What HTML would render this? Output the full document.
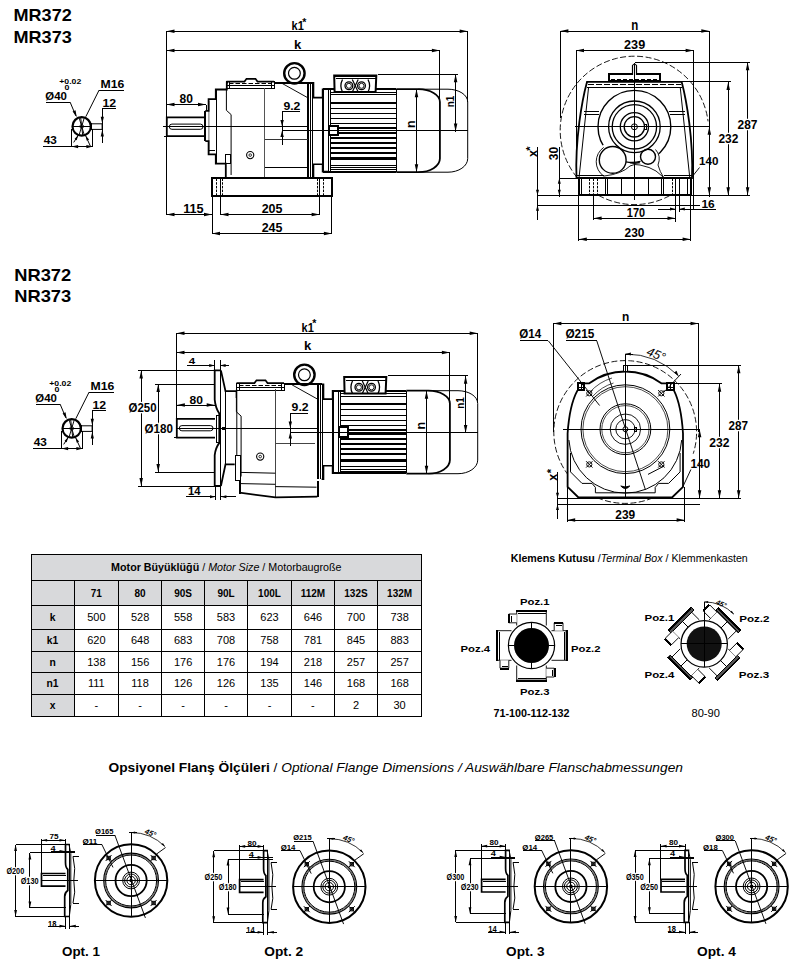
<!DOCTYPE html><html><head><meta charset="utf-8"><style>html,body{margin:0;padding:0;background:#fff;width:802px;height:974px;overflow:hidden}svg{display:block;font-family:"Liberation Sans",sans-serif}</style></head><body>
<svg width="802" height="974" viewBox="0 0 802 974" stroke="#000" fill="#000" stroke-linecap="butt">
<text x="13.5" y="20.7" font-size="17.15" font-weight="bold" font-style="normal" text-anchor="start" textLength="58.3" lengthAdjust="spacingAndGlyphs" stroke="none" >MR372</text>
<text x="13.5" y="42.7" font-size="17.28" font-weight="bold" font-style="normal" text-anchor="start" textLength="58.3" lengthAdjust="spacingAndGlyphs" stroke="none" >MR373</text>
<circle cx="81.7" cy="126.4" r="9.2" stroke-width="2.2" fill="none" />
<circle cx="81.7" cy="126.4" r="1.8" stroke-width="0.9" fill="none" />
<line x1="73.2" y1="126.5" x2="90.2" y2="126.5" stroke-width="1" shape-rendering="crispEdges" />
<line x1="79.2" y1="118.1" x2="84.2" y2="134.7" stroke-width="0.95" />
<line x1="84.2" y1="118.1" x2="79.2" y2="134.7" stroke-width="0.95" />
<line x1="80.7" y1="117.6" x2="82.7" y2="135.2" stroke-width="0.95" />
<path d="M91.2 123.8H102.1V129.4H91.2" stroke-width="1.0" fill="none" />
<line x1="91" y1="123.4" x2="91" y2="129.9" stroke-width="2" shape-rendering="crispEdges" />
<line x1="102.5" y1="108.5" x2="102.5" y2="143.2" stroke-width="1" shape-rendering="crispEdges" />
<line x1="102.3" y1="108.5" x2="115.7" y2="108.5" stroke-width="1" shape-rendering="crispEdges" />
<path d="M102.3 123.8L100.7 116.8L103.9 116.8Z" fill="#000" stroke="none"/>
<path d="M102.3 129.4L103.9 136.4L100.7 136.4Z" fill="#000" stroke="none"/>
<text x="102.5" y="106.6" font-size="11.03" font-weight="bold" font-style="normal" text-anchor="start" textLength="13.7" lengthAdjust="spacingAndGlyphs" stroke="none" >12</text>
<line x1="42.7" y1="146.5" x2="93.3" y2="146.5" stroke-width="1" shape-rendering="crispEdges" />
<line x1="71.5" y1="129.4" x2="71.5" y2="146.9" stroke-width="1" shape-rendering="crispEdges" />
<line x1="92.5" y1="129.4" x2="92.5" y2="146.9" stroke-width="1" shape-rendering="crispEdges" />
<path d="M71.6 146.6L78.1 145L78.1 148.2Z" fill="#000" stroke="none"/>
<path d="M92.9 146.6L86.4 148.2L86.4 145Z" fill="#000" stroke="none"/>
<line x1="78.2" y1="135.4" x2="73.7" y2="142.4" stroke-width="1.0" />
<line x1="85.7" y1="135.9" x2="90.5" y2="146.4" stroke-width="1.0" />
<path d="M78.1 135.2L76.74 140.18L74.48 138.89Z" fill="#000" stroke="none"/>
<path d="M85.7 135.7L89.1 139.59L86.77 140.75Z" fill="#000" stroke="none"/>
<text x="43.7" y="144.4" font-size="11.03" font-weight="bold" font-style="normal" text-anchor="start" textLength="13.1" lengthAdjust="spacingAndGlyphs" stroke="none" >43</text>
<text x="45.3" y="99.5" font-size="11.03" font-weight="bold" font-style="normal" text-anchor="start" textLength="21.6" lengthAdjust="spacingAndGlyphs" stroke="none" >&#216;40</text>
<line x1="45.7" y1="102.5" x2="70.1" y2="102.5" stroke-width="1" shape-rendering="crispEdges" />
<line x1="70.1" y1="102.1" x2="75.9" y2="115.9" stroke-width="1.0" />
<path d="M76.8 117.2L72.59 111.38L75.54 110.13Z" fill="#000" stroke="none"/>
<text x="59.3" y="83.8" font-size="7.57" font-weight="bold" font-style="normal" text-anchor="start" textLength="22" lengthAdjust="spacingAndGlyphs" stroke="none" >+0.02</text>
<text x="64.4" y="89.8" font-size="6.35" font-weight="bold" font-style="normal" text-anchor="start" textLength="4.9" lengthAdjust="spacingAndGlyphs" stroke="none" >0</text>
<text x="100.5" y="87.5" font-size="11.17" font-weight="bold" font-style="normal" text-anchor="start" textLength="23.8" lengthAdjust="spacingAndGlyphs" stroke="none" >M16</text>
<line x1="99.1" y1="90.5" x2="123.8" y2="90.5" stroke-width="1" shape-rendering="crispEdges" />
<line x1="99.1" y1="90.1" x2="85.8" y2="116.7" stroke-width="1.0" />
<circle cx="294.4" cy="73.3" r="10.2" stroke-width="2.4" fill="none" />
<circle cx="294.4" cy="73.3" r="5.9" stroke-width="1.2" fill="none" />
<path d="M226.5 81.6H244.5L246.5 78.8H255.5L257.5 81.6H274" stroke-width="1.7" fill="none" />
<line x1="229" y1="83.5" x2="271.5" y2="83.5" stroke-width="1" stroke-dasharray="4.5 2"/>
<line x1="227" y1="85.5" x2="274" y2="85.5" stroke-width="1" shape-rendering="crispEdges" />
<line x1="227" y1="88.5" x2="274.3" y2="88.5" stroke-width="1" shape-rendering="crispEdges" />
<rect x="226.5" y="81.5" width="3" height="7" stroke-width="1" fill="none" shape-rendering="crispEdges" />
<rect x="271.5" y="81.5" width="3" height="7" stroke-width="1" fill="none" shape-rendering="crispEdges" />
<line x1="274.6" y1="83" x2="311.6" y2="83" stroke-width="2" shape-rendering="crispEdges" />
<line x1="282.1" y1="83.4" x2="307.5" y2="97.6" stroke-width="0.95" />
<line x1="308" y1="82.7" x2="308" y2="177.7" stroke-width="2" shape-rendering="crispEdges" />
<line x1="310.5" y1="82.7" x2="310.5" y2="177.7" stroke-width="1" shape-rendering="crispEdges" />
<line x1="312.5" y1="82.7" x2="312.5" y2="177.7" stroke-width="1" shape-rendering="crispEdges" />
<line x1="264.5" y1="87.9" x2="264.5" y2="177.7" stroke-width="1" shape-rendering="crispEdges" stroke="#555"/>
<line x1="264.9" y1="139.5" x2="307.5" y2="139.5" stroke-width="1" shape-rendering="crispEdges" stroke="#333"/>
<line x1="264.9" y1="167.5" x2="307.5" y2="167.5" stroke-width="1" shape-rendering="crispEdges" />
<path d="M226.4 88V110.3L231.1 114.6V175" stroke-width="1.0" fill="none" />
<circle cx="250.2" cy="155.1" r="3.6" stroke-width="1.1" fill="none" />
<circle cx="250.2" cy="155.1" r="1.3" stroke-width="0.8" fill="none" />
<path d="M311.6 82.7H313.5V97.6H322.6V89.3H328" stroke-width="1.6" fill="none" />
<path d="M311.6 177.7H313.5V164.2H322.6V171.6H328" stroke-width="1.6" fill="none" />
<line x1="323" y1="89.3" x2="323" y2="171.6" stroke-width="2" shape-rendering="crispEdges" />
<line x1="322.6" y1="89" x2="396.3" y2="89" stroke-width="2" shape-rendering="crispEdges" />
<line x1="322.6" y1="172" x2="396.3" y2="172" stroke-width="2" shape-rendering="crispEdges" />
<line x1="396.5" y1="89.3" x2="396.5" y2="171.6" stroke-width="1" shape-rendering="crispEdges" />
<line x1="328.5" y1="88.7" x2="328.5" y2="171.6" stroke-width="1" shape-rendering="crispEdges" />
<line x1="330.5" y1="88.7" x2="330.5" y2="171.6" stroke-width="1" shape-rendering="crispEdges" />
<line x1="331.2" y1="92.5" x2="396.3" y2="92.5" stroke-width="1" shape-rendering="crispEdges" />
<line x1="331.2" y1="94.5" x2="396.3" y2="94.5" stroke-width="1" shape-rendering="crispEdges" />
<line x1="331.2" y1="103" x2="396.3" y2="103" stroke-width="2" shape-rendering="crispEdges" />
<line x1="331.2" y1="108.5" x2="396.3" y2="108.5" stroke-width="1" shape-rendering="crispEdges" />
<line x1="331.2" y1="113.5" x2="396.3" y2="113.5" stroke-width="1" shape-rendering="crispEdges" />
<line x1="331.2" y1="118.5" x2="396.3" y2="118.5" stroke-width="1" shape-rendering="crispEdges" />
<line x1="331.2" y1="123.5" x2="396.3" y2="123.5" stroke-width="1" shape-rendering="crispEdges" />
<line x1="331.2" y1="128" x2="396.3" y2="128" stroke-width="2" shape-rendering="crispEdges" />
<line x1="331.2" y1="133" x2="396.3" y2="133" stroke-width="2" shape-rendering="crispEdges" />
<line x1="331.2" y1="138" x2="396.3" y2="138" stroke-width="2" shape-rendering="crispEdges" />
<line x1="331.2" y1="143" x2="396.3" y2="143" stroke-width="2" shape-rendering="crispEdges" />
<line x1="331.2" y1="148" x2="396.3" y2="148" stroke-width="2" shape-rendering="crispEdges" />
<line x1="331.2" y1="153" x2="396.3" y2="153" stroke-width="2" shape-rendering="crispEdges" />
<rect x="331" y="157.2" width="65.3" height="3" stroke="none" shape-rendering="crispEdges"/>
<line x1="331.2" y1="165.5" x2="396.3" y2="165.5" stroke-width="1" shape-rendering="crispEdges" />
<line x1="331.2" y1="167.5" x2="396.3" y2="167.5" stroke-width="1" shape-rendering="crispEdges" />
<line x1="331.2" y1="169.5" x2="396.3" y2="169.5" stroke-width="1" shape-rendering="crispEdges" />
<rect x="329" y="126" width="9" height="9" stroke-width="2" fill="#fff" shape-rendering="crispEdges" />
<path d="M334.6 92L334.2 75.5H376.3L375.6 92Z" stroke-width="2.0" fill="#fff" />
<line x1="333.6" y1="76" x2="376.9" y2="76" stroke-width="2" shape-rendering="crispEdges" />
<line x1="335.7" y1="78.5" x2="375.5" y2="78.5" stroke-width="1" shape-rendering="crispEdges" />
<path d="M342.5 79.5Q339.3 85.8 342.5 92" stroke-width="1.3" fill="none" />
<path d="M368 79.5Q371.2 85.8 368 92" stroke-width="1.3" fill="none" />
<line x1="352.3" y1="79.5" x2="358.2" y2="92" stroke-width="1.2" />
<line x1="358.2" y1="79.5" x2="352.3" y2="92" stroke-width="1.2" />
<circle cx="348.9" cy="85.8" r="3.9" stroke-width="1.3" fill="#fff" />
<circle cx="348.9" cy="85.8" r="2.5" stroke-width="0.9" fill="none" />
<circle cx="361.5" cy="85.8" r="3.9" stroke-width="1.3" fill="#fff" />
<circle cx="361.5" cy="85.8" r="2.5" stroke-width="0.9" fill="none" />
<path d="M396.3 89.2H418.4A21.5 12.7 0 0 1 439.9 101.9V158.6A21.5 13.6 0 0 1 418.4 172.2H396.3" stroke-width="1.8" fill="none" />
<path d="M418.4 89.2H448A19.7 12.7 0 0 1 467.7 101.9V158.6A19.7 13.6 0 0 1 448 172.2H418.4" stroke-width="1.0" fill="none" />
<line x1="163" y1="126.5" x2="307.5" y2="126.5" stroke-width="1" shape-rendering="crispEdges" />
<line x1="282.1" y1="130.5" x2="467.7" y2="130.5" stroke-width="1" shape-rendering="crispEdges" />
<text x="283.4" y="109.5" font-size="11.17" font-weight="bold" font-style="normal" text-anchor="start" textLength="17" lengthAdjust="spacingAndGlyphs" stroke="none" >9.2</text>
<line x1="282.1" y1="111.5" x2="300.1" y2="111.5" stroke-width="1" shape-rendering="crispEdges" />
<line x1="282.5" y1="111.5" x2="282.5" y2="144.9" stroke-width="1" shape-rendering="crispEdges" />
<path d="M282.1 126.5L280.4 120L283.8 120Z" fill="#000" stroke="none"/>
<path d="M282.1 130.5L283.8 137L280.4 137Z" fill="#000" stroke="none"/>
<line x1="416.5" y1="89.2" x2="416.5" y2="172.2" stroke-width="1" shape-rendering="crispEdges" />
<path d="M416.5 89.2L418.25 97.2L414.75 97.2Z" fill="#000" stroke="none"/>
<path d="M416.5 172.2L414.75 164.2L418.25 164.2Z" fill="#000" stroke="none"/>
<g transform="translate(412 124.1) rotate(-90)">
<text x="0" y="3.4" font-size="12.5" font-weight="bold" font-style="normal" text-anchor="middle" stroke="none" >n</text>
</g>
<line x1="378.2" y1="74.5" x2="458" y2="74.5" stroke-width="1" shape-rendering="crispEdges" />
<line x1="455.5" y1="74.2" x2="455.5" y2="131.5" stroke-width="1" shape-rendering="crispEdges" />
<path d="M455.6 74.2L457.35 82.2L453.85 82.2Z" fill="#000" stroke="none"/>
<path d="M455.6 131.5L453.85 123.5L457.35 123.5Z" fill="#000" stroke="none"/>
<g transform="translate(450 101.4) rotate(-90)">
<text x="0" y="3.96" font-size="11" font-weight="bold" font-style="normal" text-anchor="middle" textLength="11.5" lengthAdjust="spacingAndGlyphs" stroke="none" >n1</text>
</g>
<path d="M205 117.3H166.8V136.2H205" stroke-width="1.8" fill="none" />
<line x1="163.5" y1="136.5" x2="166.8" y2="136.5" stroke-width="1" shape-rendering="crispEdges" />
<rect x="169.3" y="124.1" width="33.7" height="5.2" rx="2.6" stroke-width="1.0" fill="none"/>
<line x1="163" y1="126.5" x2="207" y2="126.5" stroke-width="1" shape-rendering="crispEdges" />
<path d="M205.3 110.8H208.6V99.2H215.8V89.5H226.8V82.5H228" stroke-width="1.8" fill="none" />
<path d="M205.3 141.1H208.6V154.3H215.8V163.7H225.8V177.8" stroke-width="1.8" fill="none" />
<line x1="205" y1="110.8" x2="205" y2="141.1" stroke-width="2" shape-rendering="crispEdges" />
<line x1="216.5" y1="89.5" x2="216.5" y2="163.4" stroke-width="1" shape-rendering="crispEdges" />
<path d="M208.9 101V152.5" stroke-width="0.6" fill="none" />
<rect x="225.5" y="154.5" width="5" height="9" stroke-width="1" fill="none" shape-rendering="crispEdges" />
<line x1="208.1" y1="150.5" x2="215.3" y2="150.5" stroke-width="1" shape-rendering="crispEdges" />
<rect x="212" y="178" width="120" height="18" stroke-width="2" fill="none" shape-rendering="crispEdges" />
<line x1="216.5" y1="178.5" x2="216.5" y2="195" stroke-width="1" stroke-dasharray="2.5 1.2"/>
<line x1="220.5" y1="178.5" x2="220.5" y2="195" stroke-width="1" shape-rendering="crispEdges" />
<line x1="222.5" y1="178.5" x2="222.5" y2="195" stroke-width="1" stroke-dasharray="2.5 1.2"/>
<line x1="317.5" y1="178.5" x2="317.5" y2="195" stroke-width="1" stroke-dasharray="2.5 1.2"/>
<line x1="319.5" y1="178.5" x2="319.5" y2="195" stroke-width="1" shape-rendering="crispEdges" />
<line x1="323.5" y1="178.5" x2="323.5" y2="195" stroke-width="1" stroke-dasharray="2.5 1.2"/>
<line x1="226" y1="178" x2="311.6" y2="178" stroke-width="2" shape-rendering="crispEdges" />
<line x1="166.5" y1="31.3" x2="166.5" y2="214.8" stroke-width="1" shape-rendering="crispEdges" />
<line x1="166.5" y1="31.5" x2="467.7" y2="31.5" stroke-width="1" shape-rendering="crispEdges" />
<path d="M166.5 31.3L174.5 29.55L174.5 33.05Z" fill="#000" stroke="none"/>
<path d="M467.7 31.3L459.7 33.05L459.7 29.55Z" fill="#000" stroke="none"/>
<line x1="467.5" y1="31.3" x2="467.5" y2="101.9" stroke-width="1" shape-rendering="crispEdges" />
<line x1="166.5" y1="50.5" x2="439.9" y2="50.5" stroke-width="1" shape-rendering="crispEdges" />
<path d="M166.5 50.5L174.5 48.75L174.5 52.25Z" fill="#000" stroke="none"/>
<path d="M439.9 50.5L431.9 52.25L431.9 48.75Z" fill="#000" stroke="none"/>
<line x1="439.5" y1="50.5" x2="439.5" y2="101.9" stroke-width="1" shape-rendering="crispEdges" />
<text x="291.6" y="29.9" font-size="12.15" font-weight="bold" font-style="normal" text-anchor="start" textLength="12.3" lengthAdjust="spacingAndGlyphs" stroke="none" >k1</text>
<text x="302.3" y="25.5" font-size="10.5" font-weight="bold" font-style="normal" text-anchor="start" stroke="none" >*</text>
<text x="294.1" y="48.6" font-size="12.15" font-weight="bold" font-style="normal" text-anchor="start" textLength="7.3" lengthAdjust="spacingAndGlyphs" stroke="none" >k</text>
<line x1="166.5" y1="104.5" x2="206" y2="104.5" stroke-width="1" shape-rendering="crispEdges" />
<path d="M166.5 104.5L174.5 102.75L174.5 106.25Z" fill="#000" stroke="none"/>
<path d="M206 104.5L198 106.25L198 102.75Z" fill="#000" stroke="none"/>
<line x1="206.5" y1="104.5" x2="206.5" y2="109.6" stroke-width="1" shape-rendering="crispEdges" />
<text x="179.5" y="102.7" font-size="12.85" font-weight="bold" font-style="normal" text-anchor="start" textLength="13.4" lengthAdjust="spacingAndGlyphs" stroke="none" >80</text>
<line x1="166.5" y1="214.5" x2="212" y2="214.5" stroke-width="1" shape-rendering="crispEdges" />
<path d="M166.5 214.4L174.5 212.65L174.5 216.15Z" fill="#000" stroke="none"/>
<path d="M212 214.4L204 216.15L204 212.65Z" fill="#000" stroke="none"/>
<line x1="212.5" y1="195.5" x2="212.5" y2="234" stroke-width="1" shape-rendering="crispEdges" />
<line x1="220.5" y1="214.5" x2="319.6" y2="214.5" stroke-width="1" shape-rendering="crispEdges" />
<path d="M220.5 214.4L228.5 212.65L228.5 216.15Z" fill="#000" stroke="none"/>
<path d="M319.6 214.4L311.6 216.15L311.6 212.65Z" fill="#000" stroke="none"/>
<line x1="220.5" y1="195.5" x2="220.5" y2="215" stroke-width="1" shape-rendering="crispEdges" />
<line x1="319.5" y1="195.5" x2="319.5" y2="215" stroke-width="1" shape-rendering="crispEdges" />
<line x1="212" y1="233.5" x2="331.9" y2="233.5" stroke-width="1" shape-rendering="crispEdges" />
<path d="M212 233.4L220 231.65L220 235.15Z" fill="#000" stroke="none"/>
<path d="M331.9 233.4L323.9 235.15L323.9 231.65Z" fill="#000" stroke="none"/>
<line x1="331.5" y1="195.5" x2="331.5" y2="234" stroke-width="1" shape-rendering="crispEdges" />
<text x="183.2" y="213.3" font-size="12.01" font-weight="bold" font-style="normal" text-anchor="start" textLength="20.5" lengthAdjust="spacingAndGlyphs" stroke="none" >115</text>
<text x="261.7" y="213.3" font-size="12.01" font-weight="bold" font-style="normal" text-anchor="start" textLength="20.8" lengthAdjust="spacingAndGlyphs" stroke="none" >205</text>
<text x="261.7" y="232.4" font-size="12.57" font-weight="bold" font-style="normal" text-anchor="start" textLength="20.8" lengthAdjust="spacingAndGlyphs" stroke="none" >245</text>
<path d="M669.58 195.73A74.2 74.2 0 1 1 708.05 121.36" stroke-width="0.9" fill="none" stroke-dasharray="6 2.5"/>
<path d="M587 81.9H681.7C686.5 100 693.5 140 692 178H576.5C575 140 582 100 587 81.9Z" stroke-width="1.8" fill="#fff" />
<line x1="587" y1="87.5" x2="681.7" y2="87.5" stroke-width="1" shape-rendering="crispEdges" />
<line x1="588" y1="84.5" x2="681" y2="84.5" stroke-width="1" stroke-dasharray="6 2"/>
<path d="M588.5 88L579 178" stroke-width="1.0" fill="none" />
<path d="M680.3 88L689.8 178" stroke-width="1.0" fill="none" />
<line x1="584" y1="111.5" x2="599.4" y2="111.5" stroke-width="1" shape-rendering="crispEdges" />
<line x1="583.6" y1="114.5" x2="598.9" y2="114.5" stroke-width="1" shape-rendering="crispEdges" />
<line x1="669.4" y1="111.5" x2="684.9" y2="111.5" stroke-width="1" shape-rendering="crispEdges" />
<line x1="669.9" y1="114.5" x2="685.3" y2="114.5" stroke-width="1" shape-rendering="crispEdges" />
<rect x="609" y="74" width="51" height="7" stroke-width="2" fill="#fff" shape-rendering="crispEdges" />
<line x1="611" y1="79.5" x2="658" y2="79.5" stroke-width="1" stroke-dasharray="4 2"/>
<path d="M632.5 75V65.5Q634.5 62.5 636.5 65.5V75" stroke-width="1.2" fill="#fff" />
<circle cx="634.4" cy="126.8" r="36.4" stroke-width="1.4" fill="none" />
<circle cx="612.7" cy="159.9" r="17.5" stroke-width="0" fill="#fff" stroke="none"/>
<circle cx="648.5" cy="157" r="10.5" stroke-width="0" fill="#fff" stroke="none"/>
<path d="M603.7 147.4A17.5 17.5 0 0 0 603.7 176.1" stroke-width="0.9" fill="none" />
<path d="M603.7 176.1Q622 174 630 166Q634 163.5 640 165Q650 167 656 171L663.6 177.4" stroke-width="0.9" fill="none" />
<path d="M655.5 149.5Q661.5 156 658 165Q660 172 663.6 177.4" stroke-width="0.9" fill="none" />
<path d="M626 161.8A36 36 0 0 0 640.5 161.3" stroke-width="1.3" fill="none" />
<circle cx="612.7" cy="159.9" r="13.4" stroke-width="1.4" fill="#fff" />
<circle cx="648" cy="156.8" r="7.5" stroke-width="1.4" fill="#fff" />
<circle cx="634.4" cy="126.8" r="25.8" stroke-width="1.3" fill="none" />
<circle cx="634.4" cy="126.8" r="22.2" stroke-width="1.3" fill="none" />
<circle cx="634.4" cy="126.8" r="14.1" stroke-width="1.3" fill="none" />
<circle cx="634.4" cy="126.8" r="10.2" stroke-width="1.3" fill="none" />
<circle cx="634.4" cy="126.8" r="3" stroke-width="1.0" fill="none" />
<rect x="644.5" y="124.5" width="2" height="5" stroke-width="1" fill="#fff" shape-rendering="crispEdges" />
<line x1="577" y1="175.5" x2="604" y2="175.5" stroke-width="1" shape-rendering="crispEdges" />
<line x1="664" y1="175.5" x2="691.5" y2="175.5" stroke-width="1" shape-rendering="crispEdges" />
<rect x="579" y="178" width="112" height="17" stroke-width="2" fill="#fff" shape-rendering="crispEdges" />
<rect x="581.5" y="178.5" width="24" height="16" stroke-width="1" fill="none" shape-rendering="crispEdges" />
<rect x="607.5" y="178.5" width="14" height="16" stroke-width="1" fill="none" shape-rendering="crispEdges" />
<rect x="648.5" y="178.5" width="13" height="16" stroke-width="1" fill="none" shape-rendering="crispEdges" />
<rect x="663.5" y="178.5" width="24" height="16" stroke-width="1" fill="none" shape-rendering="crispEdges" />
<line x1="589.5" y1="178.5" x2="589.5" y2="195" stroke-width="1" stroke-dasharray="2.5 1.2"/>
<line x1="593.5" y1="178.5" x2="593.5" y2="195" stroke-width="1" stroke-dasharray="2.5 1.2"/>
<line x1="597.5" y1="178.5" x2="597.5" y2="195" stroke-width="1" stroke-dasharray="2.5 1.2"/>
<line x1="672.5" y1="178.5" x2="672.5" y2="195" stroke-width="1" stroke-dasharray="2.5 1.2"/>
<line x1="675.5" y1="178.5" x2="675.5" y2="195" stroke-width="1" stroke-dasharray="2.5 1.2"/>
<line x1="679.5" y1="178.5" x2="679.5" y2="195" stroke-width="1" stroke-dasharray="2.5 1.2"/>
<line x1="634.5" y1="63" x2="634.5" y2="200" stroke-width="1" shape-rendering="crispEdges" />
<line x1="575" y1="126.5" x2="709.3" y2="126.5" stroke-width="1" shape-rendering="crispEdges" />
<line x1="560.4" y1="31.5" x2="709.3" y2="31.5" stroke-width="1" shape-rendering="crispEdges" />
<path d="M560.4 31.1L568.4 29.35L568.4 32.85Z" fill="#000" stroke="none"/>
<path d="M709.3 31.1L701.3 32.85L701.3 29.35Z" fill="#000" stroke="none"/>
<line x1="560.5" y1="31.1" x2="560.5" y2="118" stroke-width="1" shape-rendering="crispEdges" />
<line x1="709.5" y1="31.1" x2="709.5" y2="197" stroke-width="1" shape-rendering="crispEdges" />
<text x="631.3" y="29.8" font-size="14.15" font-weight="bold" font-style="normal" text-anchor="start" textLength="7" lengthAdjust="spacingAndGlyphs" stroke="none" >n</text>
<line x1="576" y1="50.5" x2="693.6" y2="50.5" stroke-width="1" shape-rendering="crispEdges" />
<path d="M576 50.6L584 48.85L584 52.35Z" fill="#000" stroke="none"/>
<path d="M693.6 50.6L685.6 52.35L685.6 48.85Z" fill="#000" stroke="none"/>
<line x1="576.5" y1="50.6" x2="576.5" y2="178" stroke-width="1" shape-rendering="crispEdges" />
<line x1="693.5" y1="50.6" x2="693.5" y2="210" stroke-width="1" shape-rendering="crispEdges" />
<text x="624.1" y="49" font-size="13.13" font-weight="bold" font-style="normal" text-anchor="start" textLength="21.1" lengthAdjust="spacingAndGlyphs" stroke="none" >239</text>
<line x1="635" y1="62.5" x2="750" y2="62.5" stroke-width="1" shape-rendering="crispEdges" />
<line x1="668" y1="81.5" x2="731" y2="81.5" stroke-width="1" shape-rendering="crispEdges" />
<line x1="538" y1="195.5" x2="750" y2="195.5" stroke-width="1" shape-rendering="crispEdges" />
<line x1="747.5" y1="62.3" x2="747.5" y2="195.3" stroke-width="1" shape-rendering="crispEdges" />
<path d="M747.6 62.3L749.35 70.3L745.85 70.3Z" fill="#000" stroke="none"/>
<path d="M747.6 195.3L745.85 187.3L749.35 187.3Z" fill="#000" stroke="none"/>
<text x="737.6" y="128.9" font-size="11.87" font-weight="bold" font-style="normal" text-anchor="start" textLength="19.9" lengthAdjust="spacingAndGlyphs" stroke="#fff" stroke-width="2.5" paint-order="stroke" >287</text>
<line x1="728.5" y1="81.9" x2="728.5" y2="195.3" stroke-width="1" shape-rendering="crispEdges" />
<path d="M728.2 81.9L729.95 89.9L726.45 89.9Z" fill="#000" stroke="none"/>
<path d="M728.2 195.3L726.45 187.3L729.95 187.3Z" fill="#000" stroke="none"/>
<text x="718.4" y="142.9" font-size="12.01" font-weight="bold" font-style="normal" text-anchor="start" textLength="19.9" lengthAdjust="spacingAndGlyphs" stroke="#fff" stroke-width="2.5" paint-order="stroke" >232</text>
<line x1="709.5" y1="126.8" x2="709.5" y2="195.3" stroke-width="1" shape-rendering="crispEdges" />
<path d="M709.3 126.8L711.05 134.8L707.55 134.8Z" fill="#000" stroke="none"/>
<path d="M709.3 195.3L707.55 187.3L711.05 187.3Z" fill="#000" stroke="none"/>
<text x="699" y="165.1" font-size="11.45" font-weight="bold" font-style="normal" text-anchor="start" textLength="19.4" lengthAdjust="spacingAndGlyphs" stroke="none" >140</text>
<line x1="699.5" y1="167.5" x2="691" y2="178.2" stroke-width="0.95" />
<line x1="675.5" y1="178" x2="675.5" y2="222" stroke-width="1" shape-rendering="crispEdges" />
<line x1="679.5" y1="178" x2="679.5" y2="212" stroke-width="1" shape-rendering="crispEdges" />
<line x1="658" y1="209.5" x2="675.5" y2="209.5" stroke-width="1" shape-rendering="crispEdges" />
<path d="M675.5 209L670 210.5L670 207.5Z" fill="#000" stroke="none"/>
<line x1="679.3" y1="209.5" x2="716" y2="209.5" stroke-width="1" shape-rendering="crispEdges" />
<path d="M679.3 209L684.8 207.5L684.8 210.5Z" fill="#000" stroke="none"/>
<text x="701.4" y="207.8" font-size="11.45" font-weight="bold" font-style="normal" text-anchor="start" textLength="13.3" lengthAdjust="spacingAndGlyphs" stroke="none" >16</text>
<line x1="593.6" y1="218.5" x2="675.5" y2="218.5" stroke-width="1" shape-rendering="crispEdges" />
<path d="M593.6 218.2L601.6 216.45L601.6 219.95Z" fill="#000" stroke="none"/>
<path d="M675.5 218.2L667.5 219.95L667.5 216.45Z" fill="#000" stroke="none"/>
<line x1="593.5" y1="195" x2="593.5" y2="220" stroke-width="1" shape-rendering="crispEdges" />
<text x="626.8" y="217" font-size="11.87" font-weight="bold" font-style="normal" text-anchor="start" textLength="18.3" lengthAdjust="spacingAndGlyphs" stroke="none" >170</text>
<line x1="578.8" y1="239.5" x2="690.6" y2="239.5" stroke-width="1" shape-rendering="crispEdges" />
<path d="M578.8 239.3L586.8 237.55L586.8 241.05Z" fill="#000" stroke="none"/>
<path d="M690.6 239.3L682.6 241.05L682.6 237.55Z" fill="#000" stroke="none"/>
<line x1="578.5" y1="195" x2="578.5" y2="241" stroke-width="1" shape-rendering="crispEdges" />
<line x1="690.5" y1="195" x2="690.5" y2="241" stroke-width="1" shape-rendering="crispEdges" />
<text x="624.5" y="237.3" font-size="12.01" font-weight="bold" font-style="normal" text-anchor="start" textLength="19.9" lengthAdjust="spacingAndGlyphs" stroke="none" >230</text>
<line x1="559.3" y1="178.5" x2="578.8" y2="178.5" stroke-width="1" shape-rendering="crispEdges" />
<line x1="559.5" y1="147.2" x2="559.5" y2="197.3" stroke-width="1" shape-rendering="crispEdges" />
<path d="M559.3 178.2L560.8 183.7L557.8 183.7Z" fill="#000" stroke="none"/>
<path d="M559.3 195.3L557.8 189.8L560.8 189.8Z" fill="#000" stroke="none"/>
<g transform="translate(553.5 153.6) rotate(-90)">
<text x="0" y="4.32" font-size="12" font-weight="bold" font-style="normal" text-anchor="middle" stroke="none" >30</text>
</g>
<line x1="537.5" y1="146.8" x2="537.5" y2="219.8" stroke-width="1" shape-rendering="crispEdges" />
<line x1="538" y1="205.5" x2="700" y2="205.5" stroke-width="1" shape-rendering="crispEdges" />
<path d="M537.5 195.3L536 189.8L539 189.8Z" fill="#000" stroke="none"/>
<path d="M537.5 205.2L539 210.7L536 210.7Z" fill="#000" stroke="none"/>
<g transform="translate(533.4 153.6) rotate(-90)">
<text x="0" y="3.4" font-size="12.5" font-weight="bold" font-style="normal" text-anchor="middle" stroke="none" >x</text>
</g>
<g transform="translate(527.3 148.5) rotate(-90)">
<text x="0" y="6.3" font-size="11" font-weight="bold" font-style="normal" text-anchor="middle" stroke="none" >*</text>
</g>
<text x="14.2" y="281" font-size="16.19" font-weight="bold" font-style="normal" text-anchor="start" textLength="57" lengthAdjust="spacingAndGlyphs" stroke="none" >NR372</text>
<text x="14.2" y="302.4" font-size="16.74" font-weight="bold" font-style="normal" text-anchor="start" textLength="57" lengthAdjust="spacingAndGlyphs" stroke="none" >NR373</text>
<circle cx="71.7" cy="428.4" r="9.2" stroke-width="2.2" fill="none" />
<circle cx="71.7" cy="428.4" r="1.8" stroke-width="0.9" fill="none" />
<line x1="63.2" y1="428.5" x2="80.2" y2="428.5" stroke-width="1" shape-rendering="crispEdges" />
<line x1="69.2" y1="420.1" x2="74.2" y2="436.7" stroke-width="0.95" />
<line x1="74.2" y1="420.1" x2="69.2" y2="436.7" stroke-width="0.95" />
<line x1="70.7" y1="419.6" x2="72.7" y2="437.2" stroke-width="0.95" />
<path d="M81.2 425.8H92.1V431.4H81.2" stroke-width="1.0" fill="none" />
<line x1="81" y1="425.4" x2="81" y2="431.9" stroke-width="2" shape-rendering="crispEdges" />
<line x1="92.5" y1="410.5" x2="92.5" y2="445.2" stroke-width="1" shape-rendering="crispEdges" />
<line x1="92.3" y1="410.5" x2="105.7" y2="410.5" stroke-width="1" shape-rendering="crispEdges" />
<path d="M92.3 425.8L90.7 418.8L93.9 418.8Z" fill="#000" stroke="none"/>
<path d="M92.3 431.4L93.9 438.4L90.7 438.4Z" fill="#000" stroke="none"/>
<text x="92.5" y="408.6" font-size="11.03" font-weight="bold" font-style="normal" text-anchor="start" textLength="13.7" lengthAdjust="spacingAndGlyphs" stroke="none" >12</text>
<line x1="32.7" y1="448.5" x2="83.3" y2="448.5" stroke-width="1" shape-rendering="crispEdges" />
<line x1="61.5" y1="431.4" x2="61.5" y2="448.9" stroke-width="1" shape-rendering="crispEdges" />
<line x1="82.5" y1="431.4" x2="82.5" y2="448.9" stroke-width="1" shape-rendering="crispEdges" />
<path d="M61.6 448.6L68.1 447L68.1 450.2Z" fill="#000" stroke="none"/>
<path d="M82.9 448.6L76.4 450.2L76.4 447Z" fill="#000" stroke="none"/>
<line x1="68.2" y1="437.4" x2="63.7" y2="444.4" stroke-width="1.0" />
<line x1="75.7" y1="437.9" x2="80.5" y2="448.4" stroke-width="1.0" />
<path d="M68.1 437.2L66.74 442.18L64.48 440.89Z" fill="#000" stroke="none"/>
<path d="M75.7 437.7L79.1 441.59L76.77 442.75Z" fill="#000" stroke="none"/>
<text x="33.7" y="446.4" font-size="11.03" font-weight="bold" font-style="normal" text-anchor="start" textLength="13.1" lengthAdjust="spacingAndGlyphs" stroke="none" >43</text>
<text x="35.3" y="401.5" font-size="11.03" font-weight="bold" font-style="normal" text-anchor="start" textLength="21.6" lengthAdjust="spacingAndGlyphs" stroke="none" >&#216;40</text>
<line x1="35.7" y1="404.5" x2="60.1" y2="404.5" stroke-width="1" shape-rendering="crispEdges" />
<line x1="60.1" y1="404.1" x2="65.9" y2="417.9" stroke-width="1.0" />
<path d="M66.8 419.2L62.59 413.38L65.54 412.13Z" fill="#000" stroke="none"/>
<text x="49.3" y="385.8" font-size="7.57" font-weight="bold" font-style="normal" text-anchor="start" textLength="22" lengthAdjust="spacingAndGlyphs" stroke="none" >+0.02</text>
<text x="54.4" y="391.8" font-size="6.35" font-weight="bold" font-style="normal" text-anchor="start" textLength="4.9" lengthAdjust="spacingAndGlyphs" stroke="none" >0</text>
<text x="90.5" y="389.5" font-size="11.17" font-weight="bold" font-style="normal" text-anchor="start" textLength="23.8" lengthAdjust="spacingAndGlyphs" stroke="none" >M16</text>
<line x1="89.1" y1="392.5" x2="113.8" y2="392.5" stroke-width="1" shape-rendering="crispEdges" />
<line x1="89.1" y1="392.1" x2="75.8" y2="418.7" stroke-width="1.0" />
<circle cx="304.4" cy="374.8" r="10.2" stroke-width="2.4" fill="none" />
<circle cx="304.4" cy="374.8" r="5.9" stroke-width="1.2" fill="none" />
<path d="M236.5 383.1H254.5L256.5 380.3H265.5L267.5 383.1H284" stroke-width="1.7" fill="none" />
<line x1="239" y1="385.5" x2="281.5" y2="385.5" stroke-width="1" stroke-dasharray="4.5 2"/>
<line x1="237" y1="387.5" x2="284" y2="387.5" stroke-width="1" shape-rendering="crispEdges" />
<line x1="237" y1="390.5" x2="284.3" y2="390.5" stroke-width="1" shape-rendering="crispEdges" />
<rect x="236.5" y="383.5" width="3" height="7" stroke-width="1" fill="none" shape-rendering="crispEdges" />
<rect x="281.5" y="383.5" width="3" height="7" stroke-width="1" fill="none" shape-rendering="crispEdges" />
<line x1="284.6" y1="384" x2="321.6" y2="384" stroke-width="2" shape-rendering="crispEdges" />
<line x1="292.1" y1="384.9" x2="317.5" y2="399.1" stroke-width="0.95" />
<line x1="318" y1="384.2" x2="318" y2="479.2" stroke-width="2" shape-rendering="crispEdges" />
<line x1="320.5" y1="384.2" x2="320.5" y2="479.2" stroke-width="1" shape-rendering="crispEdges" />
<line x1="322.5" y1="384.2" x2="322.5" y2="479.2" stroke-width="1" shape-rendering="crispEdges" />
<line x1="275.5" y1="389.4" x2="275.5" y2="496.5" stroke-width="1" shape-rendering="crispEdges" stroke="#444"/>
<line x1="275.3" y1="443.5" x2="315.4" y2="443.5" stroke-width="1" shape-rendering="crispEdges" stroke="#444"/>
<path d="M236.4 389.5V411.8L241.1 416.1V476.5" stroke-width="1.0" fill="none" />
<circle cx="260.2" cy="456.6" r="3.6" stroke-width="1.1" fill="none" />
<circle cx="260.2" cy="456.6" r="1.3" stroke-width="0.8" fill="none" />
<path d="M321.6 384.2H323.5V399.1H332.6V390.8H338" stroke-width="1.6" fill="none" />
<path d="M321.6 479.2H323.5V465.7H332.6V473.1H338" stroke-width="1.6" fill="none" />
<line x1="333" y1="390.8" x2="333" y2="473.1" stroke-width="2" shape-rendering="crispEdges" />
<line x1="332.6" y1="391" x2="406.3" y2="391" stroke-width="2" shape-rendering="crispEdges" />
<line x1="332.6" y1="473" x2="406.3" y2="473" stroke-width="2" shape-rendering="crispEdges" />
<line x1="406.5" y1="390.8" x2="406.5" y2="473.1" stroke-width="1" shape-rendering="crispEdges" />
<line x1="338.5" y1="390.2" x2="338.5" y2="473.1" stroke-width="1" shape-rendering="crispEdges" />
<line x1="340.5" y1="390.2" x2="340.5" y2="473.1" stroke-width="1" shape-rendering="crispEdges" />
<line x1="341.2" y1="393.5" x2="406.3" y2="393.5" stroke-width="1" shape-rendering="crispEdges" />
<line x1="341.2" y1="396.5" x2="406.3" y2="396.5" stroke-width="1" shape-rendering="crispEdges" />
<line x1="341.2" y1="404" x2="406.3" y2="404" stroke-width="2" shape-rendering="crispEdges" />
<line x1="341.2" y1="409.5" x2="406.3" y2="409.5" stroke-width="1" shape-rendering="crispEdges" />
<line x1="341.2" y1="415.5" x2="406.3" y2="415.5" stroke-width="1" shape-rendering="crispEdges" />
<line x1="341.2" y1="420.5" x2="406.3" y2="420.5" stroke-width="1" shape-rendering="crispEdges" />
<line x1="341.2" y1="425.5" x2="406.3" y2="425.5" stroke-width="1" shape-rendering="crispEdges" />
<line x1="341.2" y1="430" x2="406.3" y2="430" stroke-width="2" shape-rendering="crispEdges" />
<line x1="341.2" y1="434" x2="406.3" y2="434" stroke-width="2" shape-rendering="crispEdges" />
<line x1="341.2" y1="439" x2="406.3" y2="439" stroke-width="2" shape-rendering="crispEdges" />
<line x1="341.2" y1="444" x2="406.3" y2="444" stroke-width="2" shape-rendering="crispEdges" />
<line x1="341.2" y1="449" x2="406.3" y2="449" stroke-width="2" shape-rendering="crispEdges" />
<line x1="341.2" y1="454" x2="406.3" y2="454" stroke-width="2" shape-rendering="crispEdges" />
<rect x="341" y="458.7" width="65.3" height="3" stroke="none" shape-rendering="crispEdges"/>
<line x1="341.2" y1="466.5" x2="406.3" y2="466.5" stroke-width="1" shape-rendering="crispEdges" />
<line x1="341.2" y1="469.5" x2="406.3" y2="469.5" stroke-width="1" shape-rendering="crispEdges" />
<line x1="341.2" y1="471.5" x2="406.3" y2="471.5" stroke-width="1" shape-rendering="crispEdges" />
<rect x="339" y="427" width="9" height="10" stroke-width="2" fill="#fff" shape-rendering="crispEdges" />
<path d="M344.6 393.5L344.2 377H386.3L385.6 393.5Z" stroke-width="2.0" fill="#fff" />
<line x1="343.6" y1="377" x2="386.9" y2="377" stroke-width="2" shape-rendering="crispEdges" />
<line x1="345.7" y1="380.5" x2="385.5" y2="380.5" stroke-width="1" shape-rendering="crispEdges" />
<path d="M352.5 381Q349.3 387.3 352.5 393.5" stroke-width="1.3" fill="none" />
<path d="M378 381Q381.2 387.3 378 393.5" stroke-width="1.3" fill="none" />
<line x1="362.3" y1="381" x2="368.2" y2="393.5" stroke-width="1.2" />
<line x1="368.2" y1="381" x2="362.3" y2="393.5" stroke-width="1.2" />
<circle cx="358.9" cy="387.3" r="3.9" stroke-width="1.3" fill="#fff" />
<circle cx="358.9" cy="387.3" r="2.5" stroke-width="0.9" fill="none" />
<circle cx="371.5" cy="387.3" r="3.9" stroke-width="1.3" fill="#fff" />
<circle cx="371.5" cy="387.3" r="2.5" stroke-width="0.9" fill="none" />
<path d="M406.3 390.7H428.4A21.5 12.7 0 0 1 449.9 403.4V460.1A21.5 13.6 0 0 1 428.4 473.7H406.3" stroke-width="1.8" fill="none" />
<path d="M428.4 390.7H458A19.7 12.7 0 0 1 477.7 403.4V460.1A19.7 13.6 0 0 1 458 473.7H428.4" stroke-width="1.0" fill="none" />
<line x1="176.8" y1="428.5" x2="317.5" y2="428.5" stroke-width="1" shape-rendering="crispEdges" />
<line x1="290.3" y1="432.5" x2="477.7" y2="432.5" stroke-width="1" shape-rendering="crispEdges" />
<text x="291.6" y="411" font-size="11.17" font-weight="bold" font-style="normal" text-anchor="start" textLength="17" lengthAdjust="spacingAndGlyphs" stroke="none" >9.2</text>
<line x1="290.3" y1="413.5" x2="308.3" y2="413.5" stroke-width="1" shape-rendering="crispEdges" />
<line x1="290.5" y1="413" x2="290.5" y2="446.4" stroke-width="1" shape-rendering="crispEdges" />
<path d="M290.3 428L288.6 421.5L292 421.5Z" fill="#000" stroke="none"/>
<path d="M290.3 432L292 438.5L288.6 438.5Z" fill="#000" stroke="none"/>
<line x1="426.5" y1="390.7" x2="426.5" y2="473.7" stroke-width="1" shape-rendering="crispEdges" />
<path d="M426.5 390.7L428.25 398.7L424.75 398.7Z" fill="#000" stroke="none"/>
<path d="M426.5 473.7L424.75 465.7L428.25 465.7Z" fill="#000" stroke="none"/>
<g transform="translate(422 425.6) rotate(-90)">
<text x="0" y="3.4" font-size="12.5" font-weight="bold" font-style="normal" text-anchor="middle" stroke="none" >n</text>
</g>
<line x1="388.2" y1="375.5" x2="468" y2="375.5" stroke-width="1" shape-rendering="crispEdges" />
<line x1="465.5" y1="375.7" x2="465.5" y2="433" stroke-width="1" shape-rendering="crispEdges" />
<path d="M465.6 375.7L467.35 383.7L463.85 383.7Z" fill="#000" stroke="none"/>
<path d="M465.6 433L463.85 425L467.35 425Z" fill="#000" stroke="none"/>
<g transform="translate(460 402.9) rotate(-90)">
<text x="0" y="3.96" font-size="11" font-weight="bold" font-style="normal" text-anchor="middle" textLength="11.5" lengthAdjust="spacingAndGlyphs" stroke="none" >n1</text>
</g>
<path d="M215 418.8H176.8V437.7H215" stroke-width="1.8" fill="none" />
<line x1="173.5" y1="437.5" x2="176.8" y2="437.5" stroke-width="1" shape-rendering="crispEdges" />
<rect x="179.3" y="425.6" width="33.7" height="5.2" rx="2.6" stroke-width="1.0" fill="none"/>
<line x1="176.8" y1="428.5" x2="217" y2="428.5" stroke-width="1" shape-rendering="crispEdges" />
<path d="M220.1 370.4H214.7V399.7Q215.5 408 219.3 413.6V442.9Q215.5 448 214.7 455.2V486H220.1" stroke-width="1.8" fill="none" />
<line x1="220.5" y1="370.4" x2="220.5" y2="486" stroke-width="1" shape-rendering="crispEdges" />
<path d="M220.9 370.4L225.5 391.2H236.8" stroke-width="1.8" fill="none" />
<path d="M220.9 486L225.5 464.4H234.7" stroke-width="1.8" fill="none" />
<line x1="225.5" y1="391.2" x2="225.5" y2="464.4" stroke-width="1" shape-rendering="crispEdges" />
<rect x="216.5" y="415.5" width="3" height="27" stroke-width="1" fill="none" shape-rendering="crispEdges" />
<rect x="222.5" y="427.5" width="3" height="2" stroke-width="1" fill="#000" shape-rendering="crispEdges" />
<rect x="235.5" y="455.5" width="5" height="25" stroke-width="1" fill="none" shape-rendering="crispEdges" />
<path d="M236.3 391.2V398" stroke-width="1.2" fill="none" />
<path d="M236.8 389.5V455" stroke-width="1.0" fill="none" />
<line x1="240" y1="480" x2="240" y2="493.6" stroke-width="2" shape-rendering="crispEdges" />
<path d="M240.6 472.4L275.3 473.2" stroke-width="1.0" fill="none" />
<path d="M240.6 483.6L275.3 484.3" stroke-width="1.0" fill="none" />
<path d="M275.3 486.6L316.5 487.2" stroke-width="1.0" fill="none" />
<path d="M239.5 492.6L275.5 497.4L317.3 496.7" stroke-width="1.7" fill="none" />
<line x1="318" y1="481" x2="318" y2="496.7" stroke-width="2" shape-rendering="crispEdges" />
<line x1="240.5" y1="455" x2="240.5" y2="486" stroke-width="1" shape-rendering="crispEdges" />
<line x1="176.5" y1="333.2" x2="176.5" y2="438.2" stroke-width="1" shape-rendering="crispEdges" />
<line x1="176.5" y1="333.5" x2="477.7" y2="333.5" stroke-width="1" shape-rendering="crispEdges" />
<path d="M176.5 333.2L184.5 331.45L184.5 334.95Z" fill="#000" stroke="none"/>
<path d="M477.7 333.2L469.7 334.95L469.7 331.45Z" fill="#000" stroke="none"/>
<line x1="176.5" y1="352.5" x2="449.9" y2="352.5" stroke-width="1" shape-rendering="crispEdges" />
<path d="M176.5 352.4L184.5 350.65L184.5 354.15Z" fill="#000" stroke="none"/>
<path d="M449.9 352.4L441.9 354.15L441.9 350.65Z" fill="#000" stroke="none"/>
<line x1="477.5" y1="333.2" x2="477.5" y2="403.4" stroke-width="1" shape-rendering="crispEdges" />
<line x1="449.5" y1="352.4" x2="449.5" y2="403.4" stroke-width="1" shape-rendering="crispEdges" />
<text x="301.6" y="331.6" font-size="12.15" font-weight="bold" font-style="normal" text-anchor="start" textLength="12.3" lengthAdjust="spacingAndGlyphs" stroke="none" >k1</text>
<text x="312.3" y="327.3" font-size="10.5" font-weight="bold" font-style="normal" text-anchor="start" stroke="none" >*</text>
<text x="304.1" y="350.2" font-size="12.15" font-weight="bold" font-style="normal" text-anchor="start" textLength="7.3" lengthAdjust="spacingAndGlyphs" stroke="none" >k</text>
<line x1="176.9" y1="405.5" x2="214.7" y2="405.5" stroke-width="1" shape-rendering="crispEdges" />
<path d="M176.9 405.1L184.9 403.35L184.9 406.85Z" fill="#000" stroke="none"/>
<path d="M214.7 405.1L206.7 406.85L206.7 403.35Z" fill="#000" stroke="none"/>
<text x="189.5" y="403.6" font-size="10.89" font-weight="bold" font-style="normal" text-anchor="start" textLength="13.4" lengthAdjust="spacingAndGlyphs" stroke="none" >80</text>
<line x1="214.5" y1="360" x2="214.5" y2="370" stroke-width="1" shape-rendering="crispEdges" />
<line x1="220.5" y1="360" x2="220.5" y2="370" stroke-width="1" shape-rendering="crispEdges" />
<line x1="187" y1="365.5" x2="214.7" y2="365.5" stroke-width="1" shape-rendering="crispEdges" />
<path d="M214.7 365.5L209.2 367L209.2 364Z" fill="#000" stroke="none"/>
<line x1="220.1" y1="365.5" x2="228.6" y2="365.5" stroke-width="1" shape-rendering="crispEdges" />
<path d="M220.1 365.5L225.6 364L225.6 367Z" fill="#000" stroke="none"/>
<text x="188.8" y="363.5" font-size="9.36" font-weight="bold" font-style="normal" text-anchor="start" textLength="6.4" lengthAdjust="spacingAndGlyphs" stroke="none" >4</text>
<line x1="215.5" y1="486" x2="215.5" y2="500" stroke-width="1" shape-rendering="crispEdges" />
<line x1="220.5" y1="486" x2="220.5" y2="500" stroke-width="1" shape-rendering="crispEdges" />
<line x1="186.2" y1="496.5" x2="215.5" y2="496.5" stroke-width="1" shape-rendering="crispEdges" />
<path d="M215.5 496.8L210 498.3L210 495.3Z" fill="#000" stroke="none"/>
<line x1="220.9" y1="496.5" x2="236.3" y2="496.5" stroke-width="1" shape-rendering="crispEdges" />
<path d="M220.9 496.8L226.4 495.3L226.4 498.3Z" fill="#000" stroke="none"/>
<text x="188" y="495.3" font-size="10.34" font-weight="bold" font-style="normal" text-anchor="start" textLength="12.5" lengthAdjust="spacingAndGlyphs" stroke="none" >14</text>
<line x1="138" y1="370.5" x2="214.7" y2="370.5" stroke-width="1" shape-rendering="crispEdges" />
<line x1="138" y1="486.5" x2="214.7" y2="486.5" stroke-width="1" shape-rendering="crispEdges" />
<line x1="141.5" y1="370.4" x2="141.5" y2="486" stroke-width="1" shape-rendering="crispEdges" />
<path d="M141.2 370.4L142.95 378.4L139.45 378.4Z" fill="#000" stroke="none"/>
<path d="M141.2 486L139.45 478L142.95 478Z" fill="#000" stroke="none"/>
<line x1="155" y1="384.5" x2="214.7" y2="384.5" stroke-width="1" shape-rendering="crispEdges" />
<line x1="155" y1="472.5" x2="214.7" y2="472.5" stroke-width="1" shape-rendering="crispEdges" />
<line x1="158.5" y1="384" x2="158.5" y2="472.1" stroke-width="1" shape-rendering="crispEdges" />
<path d="M158.2 384L159.95 392L156.45 392Z" fill="#000" stroke="none"/>
<path d="M158.2 472.1L156.45 464.1L159.95 464.1Z" fill="#000" stroke="none"/>
<text x="128.5" y="412.2" font-size="12.15" font-weight="bold" font-style="normal" text-anchor="start" textLength="28" lengthAdjust="spacingAndGlyphs" stroke="#fff" stroke-width="2.5" paint-order="stroke" >&#216;250</text>
<text x="144.5" y="433" font-size="12.29" font-weight="bold" font-style="normal" text-anchor="start" textLength="28.4" lengthAdjust="spacingAndGlyphs" stroke="#fff" stroke-width="2.5" paint-order="stroke" >&#216;180</text>
<path d="M652.64 497.92A71.4 71.4 0 1 1 693.22 453.71" stroke-width="0.9" fill="none" stroke-dasharray="6 2.5"/>
<path d="M577.5 390.4Q569.5 405 567.6 433.5V486.9L578.5 497.5H672L683 486.9V433.5Q681.2 405 673.9 390.4" stroke-width="1.8" fill="#fff" />
<path d="M584.5 383.4H588.9A61.6 61.6 0 0 1 661.7 383.4H666.9" stroke-width="1.8" fill="none" />
<rect x="578" y="383" width="6" height="7" stroke-width="2" fill="#fff" shape-rendering="crispEdges" />
<rect x="667" y="383" width="7" height="7" stroke-width="2" fill="#fff" shape-rendering="crispEdges" />
<line x1="581.5" y1="383.4" x2="581.5" y2="390.4" stroke-width="1" shape-rendering="crispEdges" />
<line x1="577.5" y1="387.5" x2="584.5" y2="387.5" stroke-width="1" shape-rendering="crispEdges" />
<line x1="670.5" y1="383.4" x2="670.5" y2="390.4" stroke-width="1" shape-rendering="crispEdges" />
<line x1="666.9" y1="387.5" x2="673.9" y2="387.5" stroke-width="1" shape-rendering="crispEdges" />
<rect x="623.5" y="365.5" width="4" height="6" stroke-width="1" fill="#fff" shape-rendering="crispEdges" />
<path d="M570.5 453V471.9L582 483.4H592L595.4 487.4V492.8H655.2V487.4L658.6 483.4H668.6L680.1 471.9V453" stroke-width="1.0" fill="none" />
<path d="M568.9 440A56.5 56.5 0 0 0 681.7 440" stroke-width="1.0" fill="none" />
<path d="M620.8 486Q625.3 491 629.8 486Q625.3 488 620.8 486Z" stroke-width="1.0" fill="#000" />
<path d="M590 392A50 50 0 0 1 612 378" stroke-width="0.7" fill="none" />
<path d="M593 396A47 47 0 0 1 613.5 383" stroke-width="0.7" fill="none" />
<line x1="648" y1="474.4" x2="664.4" y2="465.9" stroke-width="1.0" />
<circle cx="625.4" cy="429.2" r="44.4" stroke-width="1.0" fill="none" />
<circle cx="625.4" cy="429.2" r="42.5" stroke-width="0.7" fill="none" />
<circle cx="625.4" cy="429.2" r="25.4" stroke-width="1.0" fill="none" />
<circle cx="625.4" cy="429.2" r="23.6" stroke-width="0.7" fill="none" />
<circle cx="625.4" cy="429.2" r="15.2" stroke-width="0.9" fill="none" />
<circle cx="625.4" cy="429.2" r="9.6" stroke-width="0.9" fill="none" />
<circle cx="625.4" cy="429.2" r="2.5" stroke-width="1.0" fill="none" />
<rect x="634.5" y="427.5" width="2" height="4" stroke-width="1" fill="none" shape-rendering="crispEdges" />
<circle cx="589.3" cy="393.3" r="2.6" stroke-width="0.9" fill="none" />
<line x1="586.1" y1="390.1" x2="592.5" y2="396.5" stroke-width="0.95" />
<line x1="586.1" y1="396.5" x2="592.5" y2="390.1" stroke-width="0.95" />
<circle cx="661.3" cy="393.3" r="2.6" stroke-width="0.9" fill="none" />
<line x1="658.1" y1="390.1" x2="664.5" y2="396.5" stroke-width="0.95" />
<line x1="658.1" y1="396.5" x2="664.5" y2="390.1" stroke-width="0.95" />
<circle cx="589.3" cy="464.4" r="2.6" stroke-width="0.9" fill="none" />
<line x1="586.1" y1="461.2" x2="592.5" y2="467.6" stroke-width="0.95" />
<line x1="586.1" y1="467.6" x2="592.5" y2="461.2" stroke-width="0.95" />
<circle cx="661.3" cy="464.4" r="2.6" stroke-width="0.9" fill="none" />
<line x1="658.1" y1="461.2" x2="664.5" y2="467.6" stroke-width="0.95" />
<line x1="658.1" y1="467.6" x2="664.5" y2="461.2" stroke-width="0.95" />
<line x1="625.5" y1="354" x2="625.5" y2="498" stroke-width="1" shape-rendering="crispEdges" />
<line x1="563" y1="429.5" x2="699.6" y2="429.5" stroke-width="1" shape-rendering="crispEdges" />
<text x="565.4" y="338.4" font-size="12.15" font-weight="bold" font-style="normal" text-anchor="start" textLength="28.9" lengthAdjust="spacingAndGlyphs" stroke="none" >&#216;215</text>
<line x1="565.9" y1="340.5" x2="596.8" y2="340.5" stroke-width="1" shape-rendering="crispEdges" />
<line x1="596.8" y1="340.9" x2="645.4" y2="489.6" stroke-width="0.95" />
<text x="519.3" y="338.4" font-size="12.15" font-weight="bold" font-style="normal" text-anchor="start" textLength="21.9" lengthAdjust="spacingAndGlyphs" stroke="none" >&#216;14</text>
<line x1="519.8" y1="340.5" x2="548.4" y2="340.5" stroke-width="1" shape-rendering="crispEdges" />
<line x1="548.4" y1="340.9" x2="599.6" y2="405.5" stroke-width="0.95" />
<path d="M585 387L580.4 383.63L582.75 381.76Z" fill="#000" stroke="none"/>
<line x1="625.4" y1="354.5" x2="632.5" y2="354.5" stroke-width="1" shape-rendering="crispEdges" />
<path d="M625.4 354A75.2 75.2 0 0 1 678.6 376" stroke-width="0.8" fill="none" />
<path d="M625.4 354L630.9 352.5L630.9 355.5Z" fill="#000" stroke="none"/>
<path d="M678.6 376L674.1 372.5L676.5 370.7Z" fill="#000" stroke="none"/>
<line x1="681" y1="374" x2="664" y2="392" stroke-width="0.95" />
<g transform="translate(656 354.5) rotate(22)"><text x="0" y="4" font-size="12.5" font-weight="normal" font-style="italic" text-anchor="middle" stroke="none">45&#176;</text></g>
<line x1="553.4" y1="323.5" x2="698.5" y2="323.5" stroke-width="1" shape-rendering="crispEdges" />
<path d="M553.4 323.4L561.4 321.65L561.4 325.15Z" fill="#000" stroke="none"/>
<path d="M698.5 323.4L690.5 325.15L690.5 321.65Z" fill="#000" stroke="none"/>
<line x1="553.5" y1="323.4" x2="553.5" y2="432" stroke-width="1" shape-rendering="crispEdges" />
<line x1="698.5" y1="323.4" x2="698.5" y2="432" stroke-width="1" shape-rendering="crispEdges" />
<text x="621.9" y="321" font-size="13.21" font-weight="bold" font-style="normal" text-anchor="start" textLength="7.3" lengthAdjust="spacingAndGlyphs" stroke="none" >n</text>
<line x1="627" y1="365.5" x2="741" y2="365.5" stroke-width="1" shape-rendering="crispEdges" />
<line x1="668" y1="383.5" x2="722" y2="383.5" stroke-width="1" shape-rendering="crispEdges" />
<line x1="557" y1="498.5" x2="741" y2="498.5" stroke-width="1" shape-rendering="crispEdges" />
<line x1="738.5" y1="365.3" x2="738.5" y2="498.2" stroke-width="1" shape-rendering="crispEdges" />
<path d="M738.7 365.3L740.45 373.3L736.95 373.3Z" fill="#000" stroke="none"/>
<path d="M738.7 498.2L736.95 490.2L740.45 490.2Z" fill="#000" stroke="none"/>
<text x="728.4" y="429.9" font-size="13.13" font-weight="bold" font-style="normal" text-anchor="start" textLength="19.5" lengthAdjust="spacingAndGlyphs" stroke="#fff" stroke-width="2.5" paint-order="stroke" >287</text>
<line x1="719.5" y1="383.8" x2="719.5" y2="498.2" stroke-width="1" shape-rendering="crispEdges" />
<path d="M719.5 383.8L721.25 391.8L717.75 391.8Z" fill="#000" stroke="none"/>
<path d="M719.5 498.2L717.75 490.2L721.25 490.2Z" fill="#000" stroke="none"/>
<text x="709.2" y="447.3" font-size="13.13" font-weight="bold" font-style="normal" text-anchor="start" textLength="20.2" lengthAdjust="spacingAndGlyphs" stroke="#fff" stroke-width="2.5" paint-order="stroke" >232</text>
<line x1="699.5" y1="429.2" x2="699.5" y2="498.2" stroke-width="1" shape-rendering="crispEdges" />
<path d="M699.6 429.2L701.35 437.2L697.85 437.2Z" fill="#000" stroke="none"/>
<path d="M699.6 498.2L697.85 490.2L701.35 490.2Z" fill="#000" stroke="none"/>
<text x="690.4" y="467.6" font-size="13.69" font-weight="bold" font-style="normal" text-anchor="start" textLength="19.8" lengthAdjust="spacingAndGlyphs" stroke="none" >140</text>
<line x1="690.9" y1="469.5" x2="682.5" y2="487.5" stroke-width="0.95" />
<line x1="567.2" y1="520.5" x2="684.6" y2="520.5" stroke-width="1" shape-rendering="crispEdges" />
<path d="M567.2 520L575.2 518.25L575.2 521.75Z" fill="#000" stroke="none"/>
<path d="M684.6 520L676.6 521.75L676.6 518.25Z" fill="#000" stroke="none"/>
<line x1="567.5" y1="486.5" x2="567.5" y2="522" stroke-width="1" shape-rendering="crispEdges" />
<line x1="684.5" y1="486.5" x2="684.5" y2="522" stroke-width="1" shape-rendering="crispEdges" />
<text x="615.3" y="519.3" font-size="13.69" font-weight="bold" font-style="normal" text-anchor="start" textLength="19.9" lengthAdjust="spacingAndGlyphs" stroke="none" >239</text>
<line x1="557.5" y1="472.2" x2="557.5" y2="518.8" stroke-width="1" shape-rendering="crispEdges" />
<line x1="557.5" y1="504.5" x2="700" y2="504.5" stroke-width="1" shape-rendering="crispEdges" />
<path d="M557.5 498.2L556 492.7L559 492.7Z" fill="#000" stroke="none"/>
<path d="M557.5 504.6L559 510.1L556 510.1Z" fill="#000" stroke="none"/>
<g transform="translate(553.6 477.2) rotate(-90)">
<text x="0" y="3.4" font-size="12.5" font-weight="bold" font-style="normal" text-anchor="middle" stroke="none" >x</text>
</g>
<g transform="translate(548.5 471) rotate(-90)">
<text x="0" y="6.3" font-size="11" font-weight="bold" font-style="normal" text-anchor="middle" stroke="none" >*</text>
</g>
<rect x="31" y="554.4" width="390.6" height="50.6" fill="#d8d9db" stroke="none"/>
<rect x="31" y="605" width="43.2" height="111.2" fill="#d8d9db" stroke="none"/>
<line x1="31" y1="554.5" x2="421.6" y2="554.5" stroke-width="1" shape-rendering="crispEdges" />
<line x1="31" y1="580.5" x2="421.6" y2="580.5" stroke-width="1" shape-rendering="crispEdges" />
<line x1="31" y1="605.5" x2="421.6" y2="605.5" stroke-width="1" shape-rendering="crispEdges" />
<line x1="31" y1="629.5" x2="421.6" y2="629.5" stroke-width="1" shape-rendering="crispEdges" />
<line x1="31" y1="651.5" x2="421.6" y2="651.5" stroke-width="1" shape-rendering="crispEdges" />
<line x1="31" y1="672.5" x2="421.6" y2="672.5" stroke-width="1" shape-rendering="crispEdges" />
<line x1="31" y1="694.5" x2="421.6" y2="694.5" stroke-width="1" shape-rendering="crispEdges" />
<line x1="31" y1="716.5" x2="421.6" y2="716.5" stroke-width="1" shape-rendering="crispEdges" />
<line x1="31.5" y1="554.4" x2="31.5" y2="716.2" stroke-width="1" shape-rendering="crispEdges" />
<line x1="74.5" y1="580" x2="74.5" y2="716.2" stroke-width="1" shape-rendering="crispEdges" />
<line x1="118.5" y1="580" x2="118.5" y2="716.2" stroke-width="1" shape-rendering="crispEdges" />
<line x1="161.5" y1="580" x2="161.5" y2="716.2" stroke-width="1" shape-rendering="crispEdges" />
<line x1="204.5" y1="580" x2="204.5" y2="716.2" stroke-width="1" shape-rendering="crispEdges" />
<line x1="247.5" y1="580" x2="247.5" y2="716.2" stroke-width="1" shape-rendering="crispEdges" />
<line x1="291.5" y1="580" x2="291.5" y2="716.2" stroke-width="1" shape-rendering="crispEdges" />
<line x1="334.5" y1="580" x2="334.5" y2="716.2" stroke-width="1" shape-rendering="crispEdges" />
<line x1="377.5" y1="580" x2="377.5" y2="716.2" stroke-width="1" shape-rendering="crispEdges" />
<line x1="421.5" y1="554.4" x2="421.5" y2="716.2" stroke-width="1" shape-rendering="crispEdges" />
<text x="111.1" y="571.2" font-size="10.2" stroke="none" textLength="230.5" lengthAdjust="spacingAndGlyphs"><tspan font-weight="bold">Motor Büyüklüğü</tspan> / <tspan font-style="italic">Motor Size</tspan> / Motorbaugroße</text>
<text x="96.35" y="597.3" font-size="10" font-weight="bold" text-anchor="middle" stroke="none">71</text>
<text x="140.1" y="597.3" font-size="10" font-weight="bold" text-anchor="middle" stroke="none">80</text>
<text x="183.15" y="597.3" font-size="10" font-weight="bold" text-anchor="middle" stroke="none">90S</text>
<text x="226.05" y="597.3" font-size="10" font-weight="bold" text-anchor="middle" stroke="none">90L</text>
<text x="269.5" y="597.3" font-size="10" font-weight="bold" text-anchor="middle" stroke="none">100L</text>
<text x="312.95" y="597.3" font-size="10" font-weight="bold" text-anchor="middle" stroke="none">112M</text>
<text x="356" y="597.3" font-size="10" font-weight="bold" text-anchor="middle" stroke="none">132S</text>
<text x="399.6" y="597.3" font-size="10" font-weight="bold" text-anchor="middle" stroke="none">132M</text>
<text x="52.6" y="621.1" font-size="10.3" font-weight="bold" text-anchor="middle" stroke="none">k</text>
<text x="96.35" y="621.1" font-size="11" text-anchor="middle" stroke="none">500</text>
<text x="140.1" y="621.1" font-size="11" text-anchor="middle" stroke="none">528</text>
<text x="183.15" y="621.1" font-size="11" text-anchor="middle" stroke="none">558</text>
<text x="226.05" y="621.1" font-size="11" text-anchor="middle" stroke="none">583</text>
<text x="269.5" y="621.1" font-size="11" text-anchor="middle" stroke="none">623</text>
<text x="312.95" y="621.1" font-size="11" text-anchor="middle" stroke="none">646</text>
<text x="356" y="621.1" font-size="11" text-anchor="middle" stroke="none">700</text>
<text x="399.6" y="621.1" font-size="11" text-anchor="middle" stroke="none">738</text>
<text x="52.6" y="643.9" font-size="10.3" font-weight="bold" text-anchor="middle" stroke="none">k1</text>
<text x="96.35" y="643.9" font-size="11" text-anchor="middle" stroke="none">620</text>
<text x="140.1" y="643.9" font-size="11" text-anchor="middle" stroke="none">648</text>
<text x="183.15" y="643.9" font-size="11" text-anchor="middle" stroke="none">683</text>
<text x="226.05" y="643.9" font-size="11" text-anchor="middle" stroke="none">708</text>
<text x="269.5" y="643.9" font-size="11" text-anchor="middle" stroke="none">758</text>
<text x="312.95" y="643.9" font-size="11" text-anchor="middle" stroke="none">781</text>
<text x="356" y="643.9" font-size="11" text-anchor="middle" stroke="none">845</text>
<text x="399.6" y="643.9" font-size="11" text-anchor="middle" stroke="none">883</text>
<text x="52.6" y="666.2" font-size="10.3" font-weight="bold" text-anchor="middle" stroke="none">n</text>
<text x="96.35" y="666.2" font-size="11" text-anchor="middle" stroke="none">138</text>
<text x="140.1" y="666.2" font-size="11" text-anchor="middle" stroke="none">156</text>
<text x="183.15" y="666.2" font-size="11" text-anchor="middle" stroke="none">176</text>
<text x="226.05" y="666.2" font-size="11" text-anchor="middle" stroke="none">176</text>
<text x="269.5" y="666.2" font-size="11" text-anchor="middle" stroke="none">194</text>
<text x="312.95" y="666.2" font-size="11" text-anchor="middle" stroke="none">218</text>
<text x="356" y="666.2" font-size="11" text-anchor="middle" stroke="none">257</text>
<text x="399.6" y="666.2" font-size="11" text-anchor="middle" stroke="none">257</text>
<text x="52.6" y="687.1" font-size="10.3" font-weight="bold" text-anchor="middle" stroke="none">n1</text>
<text x="96.35" y="687.1" font-size="11" text-anchor="middle" stroke="none">111</text>
<text x="140.1" y="687.1" font-size="11" text-anchor="middle" stroke="none">118</text>
<text x="183.15" y="687.1" font-size="11" text-anchor="middle" stroke="none">126</text>
<text x="226.05" y="687.1" font-size="11" text-anchor="middle" stroke="none">126</text>
<text x="269.5" y="687.1" font-size="11" text-anchor="middle" stroke="none">135</text>
<text x="312.95" y="687.1" font-size="11" text-anchor="middle" stroke="none">146</text>
<text x="356" y="687.1" font-size="11" text-anchor="middle" stroke="none">168</text>
<text x="399.6" y="687.1" font-size="11" text-anchor="middle" stroke="none">168</text>
<text x="52.6" y="709.4" font-size="10.3" font-weight="bold" text-anchor="middle" stroke="none">x</text>
<text x="96.35" y="709.4" font-size="11" text-anchor="middle" stroke="none">-</text>
<text x="140.1" y="709.4" font-size="11" text-anchor="middle" stroke="none">-</text>
<text x="183.15" y="709.4" font-size="11" text-anchor="middle" stroke="none">-</text>
<text x="226.05" y="709.4" font-size="11" text-anchor="middle" stroke="none">-</text>
<text x="269.5" y="709.4" font-size="11" text-anchor="middle" stroke="none">-</text>
<text x="312.95" y="709.4" font-size="11" text-anchor="middle" stroke="none">-</text>
<text x="356" y="709.4" font-size="11" text-anchor="middle" stroke="none">2</text>
<text x="399.6" y="709.4" font-size="11" text-anchor="middle" stroke="none">30</text>
<text x="510.8" y="561.9" font-size="10" stroke="none" textLength="237" lengthAdjust="spacingAndGlyphs"><tspan font-weight="bold">Klemens Kutusu</tspan> /<tspan font-style="italic">Terminal Box</tspan> / Klemmenkasten</text>
<g transform="translate(531.5 645.5) rotate(0)">
<path d="M-14.8 -20V-34.6H14.8V-20" stroke-width="0.9" fill="#fff" />
<line x1="-15.5" y1="-35" x2="15.5" y2="-35" stroke-width="2" shape-rendering="crispEdges" />
<line x1="-14" y1="-32.5" x2="14" y2="-32.5" stroke-width="1" shape-rendering="crispEdges" />
<path d="M-14.8 -22.7H-22.7V-31.5H-14.8" stroke-width="0.9" fill="#fff" />
<line x1="-23" y1="-31.5" x2="-23" y2="-22.7" stroke-width="2" shape-rendering="crispEdges" />
<line x1="-20.5" y1="-30" x2="-20.5" y2="-24" stroke-width="1" shape-rendering="crispEdges" />
</g>
<g transform="translate(531.5 645.5) rotate(90)">
<path d="M-14.8 -20V-34.6H14.8V-20" stroke-width="0.9" fill="#fff" />
<line x1="-15.5" y1="-35" x2="15.5" y2="-35" stroke-width="2" shape-rendering="crispEdges" />
<line x1="-14" y1="-32.5" x2="14" y2="-32.5" stroke-width="1" shape-rendering="crispEdges" />
<path d="M-14.8 -22.7H-22.7V-31.5H-14.8" stroke-width="0.9" fill="#fff" />
<line x1="-23" y1="-31.5" x2="-23" y2="-22.7" stroke-width="2" shape-rendering="crispEdges" />
<line x1="-20.5" y1="-30" x2="-20.5" y2="-24" stroke-width="1" shape-rendering="crispEdges" />
</g>
<g transform="translate(531.5 645.5) rotate(180)">
<path d="M-14.8 -20V-34.6H14.8V-20" stroke-width="0.9" fill="#fff" />
<line x1="-15.5" y1="-35" x2="15.5" y2="-35" stroke-width="2" shape-rendering="crispEdges" />
<line x1="-14" y1="-32.5" x2="14" y2="-32.5" stroke-width="1" shape-rendering="crispEdges" />
<path d="M-14.8 -22.7H-22.7V-31.5H-14.8" stroke-width="0.9" fill="#fff" />
<line x1="-23" y1="-31.5" x2="-23" y2="-22.7" stroke-width="2" shape-rendering="crispEdges" />
<line x1="-20.5" y1="-30" x2="-20.5" y2="-24" stroke-width="1" shape-rendering="crispEdges" />
</g>
<g transform="translate(531.5 645.5) rotate(270)">
<path d="M-14.8 -20V-34.6H14.8V-20" stroke-width="0.9" fill="#fff" />
<line x1="-15.5" y1="-35" x2="15.5" y2="-35" stroke-width="2" shape-rendering="crispEdges" />
<line x1="-14" y1="-32.5" x2="14" y2="-32.5" stroke-width="1" shape-rendering="crispEdges" />
<path d="M-14.8 -22.7H-22.7V-31.5H-14.8" stroke-width="0.9" fill="#fff" />
<line x1="-23" y1="-31.5" x2="-23" y2="-22.7" stroke-width="2" shape-rendering="crispEdges" />
<line x1="-20.5" y1="-30" x2="-20.5" y2="-24" stroke-width="1" shape-rendering="crispEdges" />
</g>
<circle cx="531.5" cy="645.5" r="23.1" stroke-width="1.2" fill="#fff" />
<circle cx="531.5" cy="645.5" r="17.5" stroke-width="0" fill="#000" stroke="none"/>
<line x1="531.5" y1="622.4" x2="531.5" y2="628" stroke-width="1" shape-rendering="crispEdges" />
<line x1="531.5" y1="663" x2="531.5" y2="668.6" stroke-width="1" shape-rendering="crispEdges" />
<line x1="508.4" y1="645.5" x2="514" y2="645.5" stroke-width="1" shape-rendering="crispEdges" />
<line x1="549" y1="645.5" x2="554.6" y2="645.5" stroke-width="1" shape-rendering="crispEdges" />
<text x="520" y="605" font-size="9.36" font-weight="bold" font-style="normal" text-anchor="start" textLength="29.5" lengthAdjust="spacingAndGlyphs" stroke="none" >Poz.1</text>
<text x="571.1" y="651.8" font-size="9.36" font-weight="bold" font-style="normal" text-anchor="start" textLength="29.4" lengthAdjust="spacingAndGlyphs" stroke="none" >Poz.2</text>
<text x="520" y="694.7" font-size="9.08" font-weight="bold" font-style="normal" text-anchor="start" textLength="29.5" lengthAdjust="spacingAndGlyphs" stroke="none" >Poz.3</text>
<text x="460.5" y="651.8" font-size="9.36" font-weight="bold" font-style="normal" text-anchor="start" textLength="29.6" lengthAdjust="spacingAndGlyphs" stroke="none" >Poz.4</text>
<text x="493.5" y="716.5" font-size="10.2" font-weight="bold" font-style="normal" text-anchor="start" textLength="76" lengthAdjust="spacingAndGlyphs" stroke="none" >71-100-112-132</text>
<g transform="translate(704.2 643.9) rotate(45)">
<path d="M-13.5 -20.5V-33H13.5V-20.5" stroke-width="0.9" fill="#fff" />
<rect x="-15.5" y="-35.5" width="32" height="4" stroke-width="1" fill="#555" shape-rendering="crispEdges" />
<line x1="-16" y1="-35" x2="16" y2="-35" stroke-width="2" shape-rendering="crispEdges" />
<line x1="0.5" y1="-23" x2="0.5" y2="-31.5" stroke-width="1" shape-rendering="crispEdges" />
<path d="M-13.5 -22.5H-23.5V-31.5H-13.5" stroke-width="0.9" fill="#fff" />
<line x1="-24" y1="-31.5" x2="-24" y2="-22.5" stroke-width="2" shape-rendering="crispEdges" />
</g>
<g transform="translate(704.2 643.9) rotate(135)">
<path d="M-13.5 -20.5V-33H13.5V-20.5" stroke-width="0.9" fill="#fff" />
<rect x="-15.5" y="-35.5" width="32" height="4" stroke-width="1" fill="#555" shape-rendering="crispEdges" />
<line x1="-16" y1="-35" x2="16" y2="-35" stroke-width="2" shape-rendering="crispEdges" />
<line x1="0.5" y1="-23" x2="0.5" y2="-31.5" stroke-width="1" shape-rendering="crispEdges" />
<path d="M-13.5 -22.5H-23.5V-31.5H-13.5" stroke-width="0.9" fill="#fff" />
<line x1="-24" y1="-31.5" x2="-24" y2="-22.5" stroke-width="2" shape-rendering="crispEdges" />
</g>
<g transform="translate(704.2 643.9) rotate(225)">
<path d="M-13.5 -20.5V-33H13.5V-20.5" stroke-width="0.9" fill="#fff" />
<rect x="-15.5" y="-35.5" width="32" height="4" stroke-width="1" fill="#555" shape-rendering="crispEdges" />
<line x1="-16" y1="-35" x2="16" y2="-35" stroke-width="2" shape-rendering="crispEdges" />
<line x1="0.5" y1="-23" x2="0.5" y2="-31.5" stroke-width="1" shape-rendering="crispEdges" />
<path d="M-13.5 -22.5H-23.5V-31.5H-13.5" stroke-width="0.9" fill="#fff" />
<line x1="-24" y1="-31.5" x2="-24" y2="-22.5" stroke-width="2" shape-rendering="crispEdges" />
</g>
<g transform="translate(704.2 643.9) rotate(315)">
<path d="M-13.5 -20.5V-33H13.5V-20.5" stroke-width="0.9" fill="#fff" />
<rect x="-15.5" y="-35.5" width="32" height="4" stroke-width="1" fill="#555" shape-rendering="crispEdges" />
<line x1="-16" y1="-35" x2="16" y2="-35" stroke-width="2" shape-rendering="crispEdges" />
<line x1="0.5" y1="-23" x2="0.5" y2="-31.5" stroke-width="1" shape-rendering="crispEdges" />
<path d="M-13.5 -22.5H-23.5V-31.5H-13.5" stroke-width="0.9" fill="#fff" />
<line x1="-24" y1="-31.5" x2="-24" y2="-22.5" stroke-width="2" shape-rendering="crispEdges" />
</g>
<circle cx="704.2" cy="643.9" r="23.2" stroke-width="1.2" fill="#fff" />
<circle cx="704.2" cy="643.9" r="17.5" stroke-width="0" fill="#111" stroke="none"/>
<line x1="704.5" y1="620.7" x2="704.5" y2="667.1" stroke-width="1" shape-rendering="crispEdges" />
<line x1="681" y1="643.5" x2="727.4" y2="643.5" stroke-width="1" shape-rendering="crispEdges" />
<line x1="704.5" y1="620.7" x2="704.5" y2="601.9" stroke-width="1" shape-rendering="crispEdges" />
<path d="M704.2 601.9A42 42 0 0 1 733.9 614.2" stroke-width="0.8" fill="none" />
<path d="M704.2 601.9L708.2 600.9L708.2 602.9Z" fill="#000" stroke="none"/>
<path d="M733.9 614.2L730.36 612.08L731.78 610.66Z" fill="#000" stroke="none"/>
<g transform="translate(721.2 603.9) rotate(22)"><text x="0" y="2.3" font-size="7" font-weight="bold" font-style="italic" text-anchor="middle" stroke="none">45°</text></g>
<text x="644.5" y="620.5" font-size="9.78" font-weight="bold" font-style="normal" text-anchor="start" textLength="29.9" lengthAdjust="spacingAndGlyphs" stroke="none" >Poz.1</text>
<text x="739.2" y="621.5" font-size="9.78" font-weight="bold" font-style="normal" text-anchor="start" textLength="30.3" lengthAdjust="spacingAndGlyphs" stroke="none" >Poz.2</text>
<text x="644.5" y="678" font-size="9.78" font-weight="bold" font-style="normal" text-anchor="start" textLength="29.9" lengthAdjust="spacingAndGlyphs" stroke="none" >Poz.4</text>
<text x="738.8" y="678" font-size="9.78" font-weight="bold" font-style="normal" text-anchor="start" textLength="30.3" lengthAdjust="spacingAndGlyphs" stroke="none" >Poz.3</text>
<text x="691.5" y="716.7" font-size="10.75" font-weight="normal" font-style="normal" text-anchor="start" textLength="28.4" lengthAdjust="spacingAndGlyphs" stroke="none" >80-90</text>
<text x="108.5" y="772.2" font-size="12.6" stroke="none" textLength="574.5" lengthAdjust="spacingAndGlyphs"><tspan font-weight="bold">Opsiyonel Flanş Ölçüleri</tspan> / <tspan font-style="italic">Optional Flange Dimensions / Auswählbare Flanschabmessungen</tspan></text>
<line x1="15.6" y1="844.5" x2="69.8" y2="844.5" stroke-width="1" shape-rendering="crispEdges" />
<line x1="15.6" y1="916.5" x2="69.8" y2="916.5" stroke-width="1" shape-rendering="crispEdges" />
<line x1="15.5" y1="844.5" x2="15.5" y2="916.5" stroke-width="1" shape-rendering="crispEdges" />
<path d="M15.6 844.5L17 851L14.2 851Z" fill="#000" stroke="none"/>
<path d="M15.6 916.5L14.2 910L17 910Z" fill="#000" stroke="none"/>
<line x1="29.9" y1="852.5" x2="74.8" y2="852.5" stroke-width="1" shape-rendering="crispEdges" />
<line x1="29.9" y1="907.5" x2="65.5" y2="907.5" stroke-width="1" shape-rendering="crispEdges" />
<line x1="29.5" y1="852.9" x2="29.5" y2="907.9" stroke-width="1" shape-rendering="crispEdges" />
<path d="M29.9 852.9L31.3 859.4L28.5 859.4Z" fill="#000" stroke="none"/>
<path d="M29.9 907.9L28.5 901.4L31.3 901.4Z" fill="#000" stroke="none"/>
<path d="M65.5 873.5H41.5V886.1H65.5" stroke-width="1.7" fill="none" />
<line x1="42.5" y1="875.5" x2="65.5" y2="875.5" stroke-width="1" shape-rendering="crispEdges" />
<line x1="41.1" y1="880.5" x2="77.5" y2="880.5" stroke-width="1" shape-rendering="crispEdges" />
<path d="M69.8 844.5H65.5V862.5Q65.5 867.5 67.8 869.5V890.5Q64.7 892.5 64.7 896.5V916.5H69.8" stroke-width="1.7" fill="none" />
<line x1="69.5" y1="844.5" x2="69.5" y2="916.5" stroke-width="1" shape-rendering="crispEdges" />
<path d="M69 844.5L70.8 853.5V904.5L69.3 916.5" stroke-width="1.0" fill="none" />
<path d="M73 856.5Q76 868.5 73.8 880.5Q76 892.5 73 903.1" stroke-width="1.0" fill="none" />
<line x1="72.5" y1="856.5" x2="78.7" y2="856.5" stroke-width="1" shape-rendering="crispEdges" />
<line x1="72.5" y1="903.5" x2="78.7" y2="903.5" stroke-width="1" shape-rendering="crispEdges" />
<line x1="41.1" y1="840.5" x2="65.5" y2="840.5" stroke-width="1" shape-rendering="crispEdges" />
<path d="M41.1 840.2L47.1 838.9L47.1 841.5Z" fill="#000" stroke="none"/>
<path d="M65.5 840.2L59.5 841.5L59.5 838.9Z" fill="#000" stroke="none"/>
<line x1="41.5" y1="838.5" x2="41.5" y2="873.6" stroke-width="1" shape-rendering="crispEdges" />
<line x1="65.5" y1="838.5" x2="65.5" y2="844.5" stroke-width="1" shape-rendering="crispEdges" />
<text x="49.4" y="839.4" font-size="7.96" font-weight="bold" font-style="normal" text-anchor="start" textLength="9.1" lengthAdjust="spacingAndGlyphs" stroke="none" >75</text>
<line x1="50.5" y1="851.5" x2="74.8" y2="851.5" stroke-width="1" shape-rendering="crispEdges" />
<path d="M65.5 851.2L59.5 852.5L59.5 849.9Z" fill="#000" stroke="none"/>
<text x="50.6" y="850.5" font-size="7.96" font-weight="bold" font-style="normal" text-anchor="start" textLength="5.1" lengthAdjust="spacingAndGlyphs" stroke="none" >4</text>
<line x1="65.5" y1="916.5" x2="65.5" y2="928.5" stroke-width="1" shape-rendering="crispEdges" />
<line x1="69.5" y1="916.5" x2="69.5" y2="928.5" stroke-width="1" shape-rendering="crispEdges" />
<line x1="48" y1="926.5" x2="65.5" y2="926.5" stroke-width="1" shape-rendering="crispEdges" />
<path d="M65.5 926.1L59.5 927.4L59.5 924.8Z" fill="#000" stroke="none"/>
<line x1="69.8" y1="926.5" x2="78.5" y2="926.5" stroke-width="1" shape-rendering="crispEdges" />
<path d="M69.8 926.1L75.8 924.8L75.8 927.4Z" fill="#000" stroke="none"/>
<text x="48.1" y="926.5" font-size="8.38" font-weight="bold" font-style="normal" text-anchor="start" textLength="8.4" lengthAdjust="spacingAndGlyphs" stroke="none" >18</text>
<text x="6.4" y="874.2" font-size="8.38" font-weight="bold" font-style="normal" text-anchor="start" textLength="17.8" lengthAdjust="spacingAndGlyphs" stroke="#fff" stroke-width="2.5" paint-order="stroke" >&#216;200</text>
<text x="20.7" y="883.6" font-size="8.38" font-weight="bold" font-style="normal" text-anchor="start" textLength="17.8" lengthAdjust="spacingAndGlyphs" stroke="#fff" stroke-width="2.5" paint-order="stroke" >&#216;130</text>
<circle cx="131.1" cy="880.5" r="36.2" stroke-width="2.0" fill="none" />
<circle cx="131.1" cy="880.5" r="27.4" stroke-width="1.1" fill="none" />
<circle cx="131.1" cy="880.5" r="26.4" stroke-width="0.6" fill="none" />
<circle cx="131.1" cy="880.5" r="25.5" stroke-width="1.0" fill="none" />
<circle cx="131.1" cy="880.5" r="15.6" stroke-width="1.8" fill="none" />
<circle cx="131.1" cy="880.5" r="8.4" stroke-width="1.0" fill="none" />
<circle cx="131.1" cy="880.5" r="6.5" stroke-width="1.0" fill="none" />
<circle cx="131.1" cy="880.5" r="4.2" stroke-width="1.0" fill="none" />
<circle cx="131.1" cy="880.5" r="1.8" stroke-width="0" fill="#000" stroke="none"/>
<rect x="106.9" y="856.3" width="3.4" height="3.4" stroke-width="0.9" fill="#666"/>
<line x1="105.6" y1="855" x2="111.6" y2="861" stroke-width="0.95" />
<line x1="105.6" y1="861" x2="111.6" y2="855" stroke-width="0.95" />
<rect x="106.9" y="901.3" width="3.4" height="3.4" stroke-width="0.9" fill="#666"/>
<line x1="105.6" y1="900" x2="111.6" y2="906" stroke-width="0.95" />
<line x1="105.6" y1="906" x2="111.6" y2="900" stroke-width="0.95" />
<rect x="151.9" y="856.3" width="3.4" height="3.4" stroke-width="0.9" fill="#666"/>
<line x1="150.6" y1="855" x2="156.6" y2="861" stroke-width="0.95" />
<line x1="150.6" y1="861" x2="156.6" y2="855" stroke-width="0.95" />
<rect x="151.9" y="901.3" width="3.4" height="3.4" stroke-width="0.9" fill="#666"/>
<line x1="150.6" y1="900" x2="156.6" y2="906" stroke-width="0.95" />
<line x1="150.6" y1="906" x2="156.6" y2="900" stroke-width="0.95" />
<line x1="94.6" y1="880.5" x2="167.6" y2="880.5" stroke-width="1" shape-rendering="crispEdges" />
<line x1="131.5" y1="832.5" x2="131.5" y2="916.1" stroke-width="1" shape-rendering="crispEdges" />
<line x1="129.1" y1="832.5" x2="136.6" y2="832.5" stroke-width="1" shape-rendering="crispEdges" />
<path d="M131.1 832.5L135.1 831.5L135.1 833.5Z" fill="#000" stroke="none"/>
<path d="M131.1 832.5A48 48 0 0 1 165 846.6" stroke-width="0.8" fill="none" />
<path d="M165 846.6L161.46 844.48L162.88 843.06Z" fill="#000" stroke="none"/>
<line x1="165.6" y1="847.5" x2="156.6" y2="854" stroke-width="0.95" />
<g transform="translate(150.6 833) rotate(22)"><text x="0" y="2.6" font-size="7.5" font-weight="bold" font-style="italic" text-anchor="middle" stroke="none">45°</text></g>
<text x="95" y="834" font-size="7.96" font-weight="bold" font-style="normal" text-anchor="start" textLength="18.5" lengthAdjust="spacingAndGlyphs" stroke="none" >&#216;165</text>
<line x1="95.5" y1="835.5" x2="114.8" y2="835.5" stroke-width="1" shape-rendering="crispEdges" />
<line x1="114.8" y1="835" x2="145.4" y2="917.9" stroke-width="0.95" />
<text x="82.5" y="844" font-size="7.96" font-weight="bold" font-style="normal" text-anchor="start" textLength="14.8" lengthAdjust="spacingAndGlyphs" stroke="none" >&#216;11</text>
<line x1="83" y1="844.5" x2="101.8" y2="844.5" stroke-width="1" shape-rendering="crispEdges" />
<line x1="101.8" y1="844.4" x2="113" y2="867.4" stroke-width="0.95" />
<text x="62" y="955.6" font-size="13.13" font-weight="bold" font-style="normal" text-anchor="start" textLength="38" lengthAdjust="spacingAndGlyphs" stroke="none" >Opt. 1</text>
<line x1="213.7" y1="850.5" x2="267.9" y2="850.5" stroke-width="1" shape-rendering="crispEdges" />
<line x1="213.7" y1="922.5" x2="267.9" y2="922.5" stroke-width="1" shape-rendering="crispEdges" />
<line x1="213.5" y1="850.7" x2="213.5" y2="922.7" stroke-width="1" shape-rendering="crispEdges" />
<path d="M213.7 850.7L215.1 857.2L212.3 857.2Z" fill="#000" stroke="none"/>
<path d="M213.7 922.7L212.3 916.2L215.1 916.2Z" fill="#000" stroke="none"/>
<line x1="228" y1="859.5" x2="272.9" y2="859.5" stroke-width="1" shape-rendering="crispEdges" />
<line x1="228" y1="914.5" x2="263.6" y2="914.5" stroke-width="1" shape-rendering="crispEdges" />
<line x1="228.5" y1="859.1" x2="228.5" y2="914.1" stroke-width="1" shape-rendering="crispEdges" />
<path d="M228 859.1L229.4 865.6L226.6 865.6Z" fill="#000" stroke="none"/>
<path d="M228 914.1L226.6 907.6L229.4 907.6Z" fill="#000" stroke="none"/>
<path d="M263.6 879.7H239.6V892.3H263.6" stroke-width="1.7" fill="none" />
<line x1="240.6" y1="881.5" x2="263.6" y2="881.5" stroke-width="1" shape-rendering="crispEdges" />
<line x1="239.2" y1="886.5" x2="275.6" y2="886.5" stroke-width="1" shape-rendering="crispEdges" />
<path d="M267.9 850.7H263.6V868.7Q263.6 873.7 265.9 875.7V896.7Q262.8 898.7 262.8 902.7V922.7H267.9" stroke-width="1.7" fill="none" />
<line x1="267.5" y1="850.7" x2="267.5" y2="922.7" stroke-width="1" shape-rendering="crispEdges" />
<path d="M267.1 850.7L268.9 859.7V910.7L267.4 922.7" stroke-width="1.0" fill="none" />
<path d="M271.1 862.7Q274.1 874.7 271.9 886.7Q274.1 898.7 271.1 909.3" stroke-width="1.0" fill="none" />
<line x1="270.6" y1="862.5" x2="276.8" y2="862.5" stroke-width="1" shape-rendering="crispEdges" />
<line x1="270.6" y1="909.5" x2="276.8" y2="909.5" stroke-width="1" shape-rendering="crispEdges" />
<line x1="239.2" y1="846.5" x2="263.6" y2="846.5" stroke-width="1" shape-rendering="crispEdges" />
<path d="M239.2 846.4L245.2 845.1L245.2 847.7Z" fill="#000" stroke="none"/>
<path d="M263.6 846.4L257.6 847.7L257.6 845.1Z" fill="#000" stroke="none"/>
<line x1="239.5" y1="844.7" x2="239.5" y2="879.8" stroke-width="1" shape-rendering="crispEdges" />
<line x1="263.5" y1="844.7" x2="263.5" y2="850.7" stroke-width="1" shape-rendering="crispEdges" />
<text x="247.5" y="845.6" font-size="7.96" font-weight="bold" font-style="normal" text-anchor="start" textLength="9.1" lengthAdjust="spacingAndGlyphs" stroke="none" >80</text>
<line x1="248.6" y1="857.5" x2="272.9" y2="857.5" stroke-width="1" shape-rendering="crispEdges" />
<path d="M263.6 857.4L257.6 858.7L257.6 856.1Z" fill="#000" stroke="none"/>
<text x="248.7" y="856.7" font-size="7.96" font-weight="bold" font-style="normal" text-anchor="start" textLength="5.1" lengthAdjust="spacingAndGlyphs" stroke="none" >4</text>
<line x1="263.5" y1="922.7" x2="263.5" y2="934.7" stroke-width="1" shape-rendering="crispEdges" />
<line x1="267.5" y1="922.7" x2="267.5" y2="934.7" stroke-width="1" shape-rendering="crispEdges" />
<line x1="246.1" y1="932.5" x2="263.6" y2="932.5" stroke-width="1" shape-rendering="crispEdges" />
<path d="M263.6 932.3L257.6 933.6L257.6 931Z" fill="#000" stroke="none"/>
<line x1="267.9" y1="932.5" x2="276.6" y2="932.5" stroke-width="1" shape-rendering="crispEdges" />
<path d="M267.9 932.3L273.9 931L273.9 933.6Z" fill="#000" stroke="none"/>
<text x="246.2" y="932.7" font-size="8.38" font-weight="bold" font-style="normal" text-anchor="start" textLength="8.4" lengthAdjust="spacingAndGlyphs" stroke="none" >14</text>
<text x="204.5" y="880.4" font-size="8.38" font-weight="bold" font-style="normal" text-anchor="start" textLength="17.8" lengthAdjust="spacingAndGlyphs" stroke="#fff" stroke-width="2.5" paint-order="stroke" >&#216;250</text>
<text x="218.8" y="889.8" font-size="8.38" font-weight="bold" font-style="normal" text-anchor="start" textLength="17.8" lengthAdjust="spacingAndGlyphs" stroke="#fff" stroke-width="2.5" paint-order="stroke" >&#216;180</text>
<circle cx="329.3" cy="886.7" r="36.2" stroke-width="2.0" fill="none" />
<circle cx="329.3" cy="886.7" r="27.4" stroke-width="1.1" fill="none" />
<circle cx="329.3" cy="886.7" r="26.4" stroke-width="0.6" fill="none" />
<circle cx="329.3" cy="886.7" r="25.5" stroke-width="1.0" fill="none" />
<circle cx="329.3" cy="886.7" r="15.6" stroke-width="1.8" fill="none" />
<circle cx="329.3" cy="886.7" r="8.4" stroke-width="1.0" fill="none" />
<circle cx="329.3" cy="886.7" r="6.5" stroke-width="1.0" fill="none" />
<circle cx="329.3" cy="886.7" r="4.2" stroke-width="1.0" fill="none" />
<circle cx="329.3" cy="886.7" r="1.8" stroke-width="0" fill="#000" stroke="none"/>
<rect x="305.1" y="862.5" width="3.4" height="3.4" stroke-width="0.9" fill="#666"/>
<line x1="303.8" y1="861.2" x2="309.8" y2="867.2" stroke-width="0.95" />
<line x1="303.8" y1="867.2" x2="309.8" y2="861.2" stroke-width="0.95" />
<rect x="305.1" y="907.5" width="3.4" height="3.4" stroke-width="0.9" fill="#666"/>
<line x1="303.8" y1="906.2" x2="309.8" y2="912.2" stroke-width="0.95" />
<line x1="303.8" y1="912.2" x2="309.8" y2="906.2" stroke-width="0.95" />
<rect x="350.1" y="862.5" width="3.4" height="3.4" stroke-width="0.9" fill="#666"/>
<line x1="348.8" y1="861.2" x2="354.8" y2="867.2" stroke-width="0.95" />
<line x1="348.8" y1="867.2" x2="354.8" y2="861.2" stroke-width="0.95" />
<rect x="350.1" y="907.5" width="3.4" height="3.4" stroke-width="0.9" fill="#666"/>
<line x1="348.8" y1="906.2" x2="354.8" y2="912.2" stroke-width="0.95" />
<line x1="348.8" y1="912.2" x2="354.8" y2="906.2" stroke-width="0.95" />
<line x1="292.8" y1="886.5" x2="365.8" y2="886.5" stroke-width="1" shape-rendering="crispEdges" />
<line x1="329.5" y1="838.7" x2="329.5" y2="922.3" stroke-width="1" shape-rendering="crispEdges" />
<line x1="327.3" y1="838.5" x2="334.8" y2="838.5" stroke-width="1" shape-rendering="crispEdges" />
<path d="M329.3 838.7L333.3 837.7L333.3 839.7Z" fill="#000" stroke="none"/>
<path d="M329.3 838.7A48 48 0 0 1 363.2 852.8" stroke-width="0.8" fill="none" />
<path d="M363.2 852.8L359.66 850.68L361.08 849.26Z" fill="#000" stroke="none"/>
<line x1="363.8" y1="853.7" x2="354.8" y2="860.2" stroke-width="0.95" />
<g transform="translate(348.8 839.2) rotate(22)"><text x="0" y="2.6" font-size="7.5" font-weight="bold" font-style="italic" text-anchor="middle" stroke="none">45°</text></g>
<text x="293.2" y="840.2" font-size="7.96" font-weight="bold" font-style="normal" text-anchor="start" textLength="18.5" lengthAdjust="spacingAndGlyphs" stroke="none" >&#216;215</text>
<line x1="293.7" y1="841.5" x2="313" y2="841.5" stroke-width="1" shape-rendering="crispEdges" />
<line x1="313" y1="841.2" x2="343.6" y2="924.1" stroke-width="0.95" />
<text x="280.7" y="850.2" font-size="7.96" font-weight="bold" font-style="normal" text-anchor="start" textLength="14.8" lengthAdjust="spacingAndGlyphs" stroke="none" >&#216;14</text>
<line x1="281.2" y1="850.5" x2="300" y2="850.5" stroke-width="1" shape-rendering="crispEdges" />
<line x1="300" y1="850.6" x2="311.2" y2="873.6" stroke-width="0.95" />
<text x="264.3" y="955.6" font-size="13.13" font-weight="bold" font-style="normal" text-anchor="start" textLength="38.9" lengthAdjust="spacingAndGlyphs" stroke="none" >Opt. 2</text>
<line x1="455.7" y1="850.5" x2="509.9" y2="850.5" stroke-width="1" shape-rendering="crispEdges" />
<line x1="455.7" y1="922.5" x2="509.9" y2="922.5" stroke-width="1" shape-rendering="crispEdges" />
<line x1="455.5" y1="850.4" x2="455.5" y2="922.4" stroke-width="1" shape-rendering="crispEdges" />
<path d="M455.7 850.4L457.1 856.9L454.3 856.9Z" fill="#000" stroke="none"/>
<path d="M455.7 922.4L454.3 915.9L457.1 915.9Z" fill="#000" stroke="none"/>
<line x1="470" y1="858.5" x2="514.9" y2="858.5" stroke-width="1" shape-rendering="crispEdges" />
<line x1="470" y1="913.5" x2="505.6" y2="913.5" stroke-width="1" shape-rendering="crispEdges" />
<line x1="470.5" y1="858.8" x2="470.5" y2="913.8" stroke-width="1" shape-rendering="crispEdges" />
<path d="M470 858.8L471.4 865.3L468.6 865.3Z" fill="#000" stroke="none"/>
<path d="M470 913.8L468.6 907.3L471.4 907.3Z" fill="#000" stroke="none"/>
<path d="M505.6 879.4H481.6V892H505.6" stroke-width="1.7" fill="none" />
<line x1="482.6" y1="881.5" x2="505.6" y2="881.5" stroke-width="1" shape-rendering="crispEdges" />
<line x1="481.2" y1="886.5" x2="517.6" y2="886.5" stroke-width="1" shape-rendering="crispEdges" />
<path d="M509.9 850.4H505.6V868.4Q505.6 873.4 507.9 875.4V896.4Q504.8 898.4 504.8 902.4V922.4H509.9" stroke-width="1.7" fill="none" />
<line x1="509.5" y1="850.4" x2="509.5" y2="922.4" stroke-width="1" shape-rendering="crispEdges" />
<path d="M509.1 850.4L510.9 859.4V910.4L509.4 922.4" stroke-width="1.0" fill="none" />
<path d="M513.1 862.4Q516.1 874.4 513.9 886.4Q516.1 898.4 513.1 909" stroke-width="1.0" fill="none" />
<line x1="512.6" y1="862.5" x2="518.8" y2="862.5" stroke-width="1" shape-rendering="crispEdges" />
<line x1="512.6" y1="909.5" x2="518.8" y2="909.5" stroke-width="1" shape-rendering="crispEdges" />
<line x1="481.2" y1="846.5" x2="505.6" y2="846.5" stroke-width="1" shape-rendering="crispEdges" />
<path d="M481.2 846.1L487.2 844.8L487.2 847.4Z" fill="#000" stroke="none"/>
<path d="M505.6 846.1L499.6 847.4L499.6 844.8Z" fill="#000" stroke="none"/>
<line x1="481.5" y1="844.4" x2="481.5" y2="879.5" stroke-width="1" shape-rendering="crispEdges" />
<line x1="505.5" y1="844.4" x2="505.5" y2="850.4" stroke-width="1" shape-rendering="crispEdges" />
<text x="489.5" y="845.3" font-size="7.96" font-weight="bold" font-style="normal" text-anchor="start" textLength="9.1" lengthAdjust="spacingAndGlyphs" stroke="none" >80</text>
<line x1="490.6" y1="857.5" x2="514.9" y2="857.5" stroke-width="1" shape-rendering="crispEdges" />
<path d="M505.6 857.1L499.6 858.4L499.6 855.8Z" fill="#000" stroke="none"/>
<text x="490.7" y="856.4" font-size="7.96" font-weight="bold" font-style="normal" text-anchor="start" textLength="5.1" lengthAdjust="spacingAndGlyphs" stroke="none" >4</text>
<line x1="505.5" y1="922.4" x2="505.5" y2="934.4" stroke-width="1" shape-rendering="crispEdges" />
<line x1="509.5" y1="922.4" x2="509.5" y2="934.4" stroke-width="1" shape-rendering="crispEdges" />
<line x1="488.1" y1="932.5" x2="505.6" y2="932.5" stroke-width="1" shape-rendering="crispEdges" />
<path d="M505.6 932L499.6 933.3L499.6 930.7Z" fill="#000" stroke="none"/>
<line x1="509.9" y1="932.5" x2="518.6" y2="932.5" stroke-width="1" shape-rendering="crispEdges" />
<path d="M509.9 932L515.9 930.7L515.9 933.3Z" fill="#000" stroke="none"/>
<text x="488.2" y="932.4" font-size="8.38" font-weight="bold" font-style="normal" text-anchor="start" textLength="8.4" lengthAdjust="spacingAndGlyphs" stroke="none" >14</text>
<text x="446.5" y="880.1" font-size="8.38" font-weight="bold" font-style="normal" text-anchor="start" textLength="17.8" lengthAdjust="spacingAndGlyphs" stroke="#fff" stroke-width="2.5" paint-order="stroke" >&#216;300</text>
<text x="460.8" y="889.5" font-size="8.38" font-weight="bold" font-style="normal" text-anchor="start" textLength="17.8" lengthAdjust="spacingAndGlyphs" stroke="#fff" stroke-width="2.5" paint-order="stroke" >&#216;230</text>
<circle cx="570.9" cy="886.4" r="36.2" stroke-width="2.0" fill="none" />
<circle cx="570.9" cy="886.4" r="27.4" stroke-width="1.1" fill="none" />
<circle cx="570.9" cy="886.4" r="26.4" stroke-width="0.6" fill="none" />
<circle cx="570.9" cy="886.4" r="25.5" stroke-width="1.0" fill="none" />
<circle cx="570.9" cy="886.4" r="15.6" stroke-width="1.8" fill="none" />
<circle cx="570.9" cy="886.4" r="8.4" stroke-width="1.0" fill="none" />
<circle cx="570.9" cy="886.4" r="6.5" stroke-width="1.0" fill="none" />
<circle cx="570.9" cy="886.4" r="4.2" stroke-width="1.0" fill="none" />
<circle cx="570.9" cy="886.4" r="1.8" stroke-width="0" fill="#000" stroke="none"/>
<rect x="546.7" y="862.2" width="3.4" height="3.4" stroke-width="0.9" fill="#666"/>
<line x1="545.4" y1="860.9" x2="551.4" y2="866.9" stroke-width="0.95" />
<line x1="545.4" y1="866.9" x2="551.4" y2="860.9" stroke-width="0.95" />
<rect x="546.7" y="907.2" width="3.4" height="3.4" stroke-width="0.9" fill="#666"/>
<line x1="545.4" y1="905.9" x2="551.4" y2="911.9" stroke-width="0.95" />
<line x1="545.4" y1="911.9" x2="551.4" y2="905.9" stroke-width="0.95" />
<rect x="591.7" y="862.2" width="3.4" height="3.4" stroke-width="0.9" fill="#666"/>
<line x1="590.4" y1="860.9" x2="596.4" y2="866.9" stroke-width="0.95" />
<line x1="590.4" y1="866.9" x2="596.4" y2="860.9" stroke-width="0.95" />
<rect x="591.7" y="907.2" width="3.4" height="3.4" stroke-width="0.9" fill="#666"/>
<line x1="590.4" y1="905.9" x2="596.4" y2="911.9" stroke-width="0.95" />
<line x1="590.4" y1="911.9" x2="596.4" y2="905.9" stroke-width="0.95" />
<line x1="534.4" y1="886.5" x2="607.4" y2="886.5" stroke-width="1" shape-rendering="crispEdges" />
<line x1="570.5" y1="838.4" x2="570.5" y2="922" stroke-width="1" shape-rendering="crispEdges" />
<line x1="568.9" y1="838.5" x2="576.4" y2="838.5" stroke-width="1" shape-rendering="crispEdges" />
<path d="M570.9 838.4L574.9 837.4L574.9 839.4Z" fill="#000" stroke="none"/>
<path d="M570.9 838.4A48 48 0 0 1 604.8 852.5" stroke-width="0.8" fill="none" />
<path d="M604.8 852.5L601.26 850.38L602.68 848.96Z" fill="#000" stroke="none"/>
<line x1="605.4" y1="853.4" x2="596.4" y2="859.9" stroke-width="0.95" />
<g transform="translate(590.4 838.9) rotate(22)"><text x="0" y="2.6" font-size="7.5" font-weight="bold" font-style="italic" text-anchor="middle" stroke="none">45°</text></g>
<text x="534.8" y="839.9" font-size="7.96" font-weight="bold" font-style="normal" text-anchor="start" textLength="18.5" lengthAdjust="spacingAndGlyphs" stroke="none" >&#216;265</text>
<line x1="535.3" y1="840.5" x2="554.6" y2="840.5" stroke-width="1" shape-rendering="crispEdges" />
<line x1="554.6" y1="840.9" x2="585.2" y2="923.8" stroke-width="0.95" />
<text x="522.3" y="849.9" font-size="7.96" font-weight="bold" font-style="normal" text-anchor="start" textLength="14.8" lengthAdjust="spacingAndGlyphs" stroke="none" >&#216;14</text>
<line x1="522.8" y1="850.5" x2="541.6" y2="850.5" stroke-width="1" shape-rendering="crispEdges" />
<line x1="541.6" y1="850.3" x2="552.8" y2="873.3" stroke-width="0.95" />
<text x="506.1" y="955.6" font-size="13.13" font-weight="bold" font-style="normal" text-anchor="start" textLength="38.6" lengthAdjust="spacingAndGlyphs" stroke="none" >Opt. 3</text>
<line x1="635.1" y1="850.5" x2="689.3" y2="850.5" stroke-width="1" shape-rendering="crispEdges" />
<line x1="635.1" y1="922.5" x2="689.3" y2="922.5" stroke-width="1" shape-rendering="crispEdges" />
<line x1="635.5" y1="850.4" x2="635.5" y2="922.4" stroke-width="1" shape-rendering="crispEdges" />
<path d="M635.1 850.4L636.5 856.9L633.7 856.9Z" fill="#000" stroke="none"/>
<path d="M635.1 922.4L633.7 915.9L636.5 915.9Z" fill="#000" stroke="none"/>
<line x1="649.4" y1="858.5" x2="694.3" y2="858.5" stroke-width="1" shape-rendering="crispEdges" />
<line x1="649.4" y1="913.5" x2="685" y2="913.5" stroke-width="1" shape-rendering="crispEdges" />
<line x1="649.5" y1="858.8" x2="649.5" y2="913.8" stroke-width="1" shape-rendering="crispEdges" />
<path d="M649.4 858.8L650.8 865.3L648 865.3Z" fill="#000" stroke="none"/>
<path d="M649.4 913.8L648 907.3L650.8 907.3Z" fill="#000" stroke="none"/>
<path d="M685 879.4H661V892H685" stroke-width="1.7" fill="none" />
<line x1="662" y1="881.5" x2="685" y2="881.5" stroke-width="1" shape-rendering="crispEdges" />
<line x1="660.6" y1="886.5" x2="697" y2="886.5" stroke-width="1" shape-rendering="crispEdges" />
<path d="M689.3 850.4H685V868.4Q685 873.4 687.3 875.4V896.4Q684.2 898.4 684.2 902.4V922.4H689.3" stroke-width="1.7" fill="none" />
<line x1="688.5" y1="850.4" x2="688.5" y2="922.4" stroke-width="1" shape-rendering="crispEdges" />
<path d="M688.5 850.4L690.3 859.4V910.4L688.8 922.4" stroke-width="1.0" fill="none" />
<path d="M692.5 862.4Q695.5 874.4 693.3 886.4Q695.5 898.4 692.5 909" stroke-width="1.0" fill="none" />
<line x1="692" y1="862.5" x2="698.2" y2="862.5" stroke-width="1" shape-rendering="crispEdges" />
<line x1="692" y1="909.5" x2="698.2" y2="909.5" stroke-width="1" shape-rendering="crispEdges" />
<line x1="660.6" y1="846.5" x2="685" y2="846.5" stroke-width="1" shape-rendering="crispEdges" />
<path d="M660.6 846.1L666.6 844.8L666.6 847.4Z" fill="#000" stroke="none"/>
<path d="M685 846.1L679 847.4L679 844.8Z" fill="#000" stroke="none"/>
<line x1="660.5" y1="844.4" x2="660.5" y2="879.5" stroke-width="1" shape-rendering="crispEdges" />
<line x1="685.5" y1="844.4" x2="685.5" y2="850.4" stroke-width="1" shape-rendering="crispEdges" />
<text x="668.9" y="845.3" font-size="7.96" font-weight="bold" font-style="normal" text-anchor="start" textLength="9.1" lengthAdjust="spacingAndGlyphs" stroke="none" >80</text>
<line x1="670" y1="857.5" x2="694.3" y2="857.5" stroke-width="1" shape-rendering="crispEdges" />
<path d="M685 857.1L679 858.4L679 855.8Z" fill="#000" stroke="none"/>
<text x="670.1" y="856.4" font-size="7.96" font-weight="bold" font-style="normal" text-anchor="start" textLength="5.1" lengthAdjust="spacingAndGlyphs" stroke="none" >4</text>
<line x1="685.5" y1="922.4" x2="685.5" y2="934.4" stroke-width="1" shape-rendering="crispEdges" />
<line x1="689.5" y1="922.4" x2="689.5" y2="934.4" stroke-width="1" shape-rendering="crispEdges" />
<line x1="667.5" y1="932.5" x2="685" y2="932.5" stroke-width="1" shape-rendering="crispEdges" />
<path d="M685 932L679 933.3L679 930.7Z" fill="#000" stroke="none"/>
<line x1="689.3" y1="932.5" x2="698" y2="932.5" stroke-width="1" shape-rendering="crispEdges" />
<path d="M689.3 932L695.3 930.7L695.3 933.3Z" fill="#000" stroke="none"/>
<text x="667.6" y="932.4" font-size="8.38" font-weight="bold" font-style="normal" text-anchor="start" textLength="8.4" lengthAdjust="spacingAndGlyphs" stroke="none" >18</text>
<text x="625.9" y="880.1" font-size="8.38" font-weight="bold" font-style="normal" text-anchor="start" textLength="17.8" lengthAdjust="spacingAndGlyphs" stroke="#fff" stroke-width="2.5" paint-order="stroke" >&#216;350</text>
<text x="640.2" y="889.5" font-size="8.38" font-weight="bold" font-style="normal" text-anchor="start" textLength="17.8" lengthAdjust="spacingAndGlyphs" stroke="#fff" stroke-width="2.5" paint-order="stroke" >&#216;250</text>
<circle cx="751.6" cy="886.4" r="36.2" stroke-width="2.0" fill="none" />
<circle cx="751.6" cy="886.4" r="27.4" stroke-width="1.1" fill="none" />
<circle cx="751.6" cy="886.4" r="26.4" stroke-width="0.6" fill="none" />
<circle cx="751.6" cy="886.4" r="25.5" stroke-width="1.0" fill="none" />
<circle cx="751.6" cy="886.4" r="15.6" stroke-width="1.8" fill="none" />
<circle cx="751.6" cy="886.4" r="8.4" stroke-width="1.0" fill="none" />
<circle cx="751.6" cy="886.4" r="6.5" stroke-width="1.0" fill="none" />
<circle cx="751.6" cy="886.4" r="4.2" stroke-width="1.0" fill="none" />
<circle cx="751.6" cy="886.4" r="1.8" stroke-width="0" fill="#000" stroke="none"/>
<rect x="727.4" y="862.2" width="3.4" height="3.4" stroke-width="0.9" fill="#666"/>
<line x1="726.1" y1="860.9" x2="732.1" y2="866.9" stroke-width="0.95" />
<line x1="726.1" y1="866.9" x2="732.1" y2="860.9" stroke-width="0.95" />
<rect x="727.4" y="907.2" width="3.4" height="3.4" stroke-width="0.9" fill="#666"/>
<line x1="726.1" y1="905.9" x2="732.1" y2="911.9" stroke-width="0.95" />
<line x1="726.1" y1="911.9" x2="732.1" y2="905.9" stroke-width="0.95" />
<rect x="772.4" y="862.2" width="3.4" height="3.4" stroke-width="0.9" fill="#666"/>
<line x1="771.1" y1="860.9" x2="777.1" y2="866.9" stroke-width="0.95" />
<line x1="771.1" y1="866.9" x2="777.1" y2="860.9" stroke-width="0.95" />
<rect x="772.4" y="907.2" width="3.4" height="3.4" stroke-width="0.9" fill="#666"/>
<line x1="771.1" y1="905.9" x2="777.1" y2="911.9" stroke-width="0.95" />
<line x1="771.1" y1="911.9" x2="777.1" y2="905.9" stroke-width="0.95" />
<line x1="715.1" y1="886.5" x2="788.1" y2="886.5" stroke-width="1" shape-rendering="crispEdges" />
<line x1="751.5" y1="838.4" x2="751.5" y2="922" stroke-width="1" shape-rendering="crispEdges" />
<line x1="749.6" y1="838.5" x2="757.1" y2="838.5" stroke-width="1" shape-rendering="crispEdges" />
<path d="M751.6 838.4L755.6 837.4L755.6 839.4Z" fill="#000" stroke="none"/>
<path d="M751.6 838.4A48 48 0 0 1 785.5 852.5" stroke-width="0.8" fill="none" />
<path d="M785.5 852.5L781.96 850.38L783.38 848.96Z" fill="#000" stroke="none"/>
<line x1="786.1" y1="853.4" x2="777.1" y2="859.9" stroke-width="0.95" />
<g transform="translate(771.1 838.9) rotate(22)"><text x="0" y="2.6" font-size="7.5" font-weight="bold" font-style="italic" text-anchor="middle" stroke="none">45°</text></g>
<text x="715.5" y="839.9" font-size="7.96" font-weight="bold" font-style="normal" text-anchor="start" textLength="18.5" lengthAdjust="spacingAndGlyphs" stroke="none" >&#216;300</text>
<line x1="716" y1="840.5" x2="735.3" y2="840.5" stroke-width="1" shape-rendering="crispEdges" />
<line x1="735.3" y1="840.9" x2="765.9" y2="923.8" stroke-width="0.95" />
<text x="703" y="849.9" font-size="7.96" font-weight="bold" font-style="normal" text-anchor="start" textLength="14.8" lengthAdjust="spacingAndGlyphs" stroke="none" >&#216;18</text>
<line x1="703.5" y1="850.5" x2="722.3" y2="850.5" stroke-width="1" shape-rendering="crispEdges" />
<line x1="722.3" y1="850.3" x2="733.5" y2="873.3" stroke-width="0.95" />
<text x="697" y="955.6" font-size="13.13" font-weight="bold" font-style="normal" text-anchor="start" textLength="38.9" lengthAdjust="spacingAndGlyphs" stroke="none" >Opt. 4</text>
</svg></body></html>
